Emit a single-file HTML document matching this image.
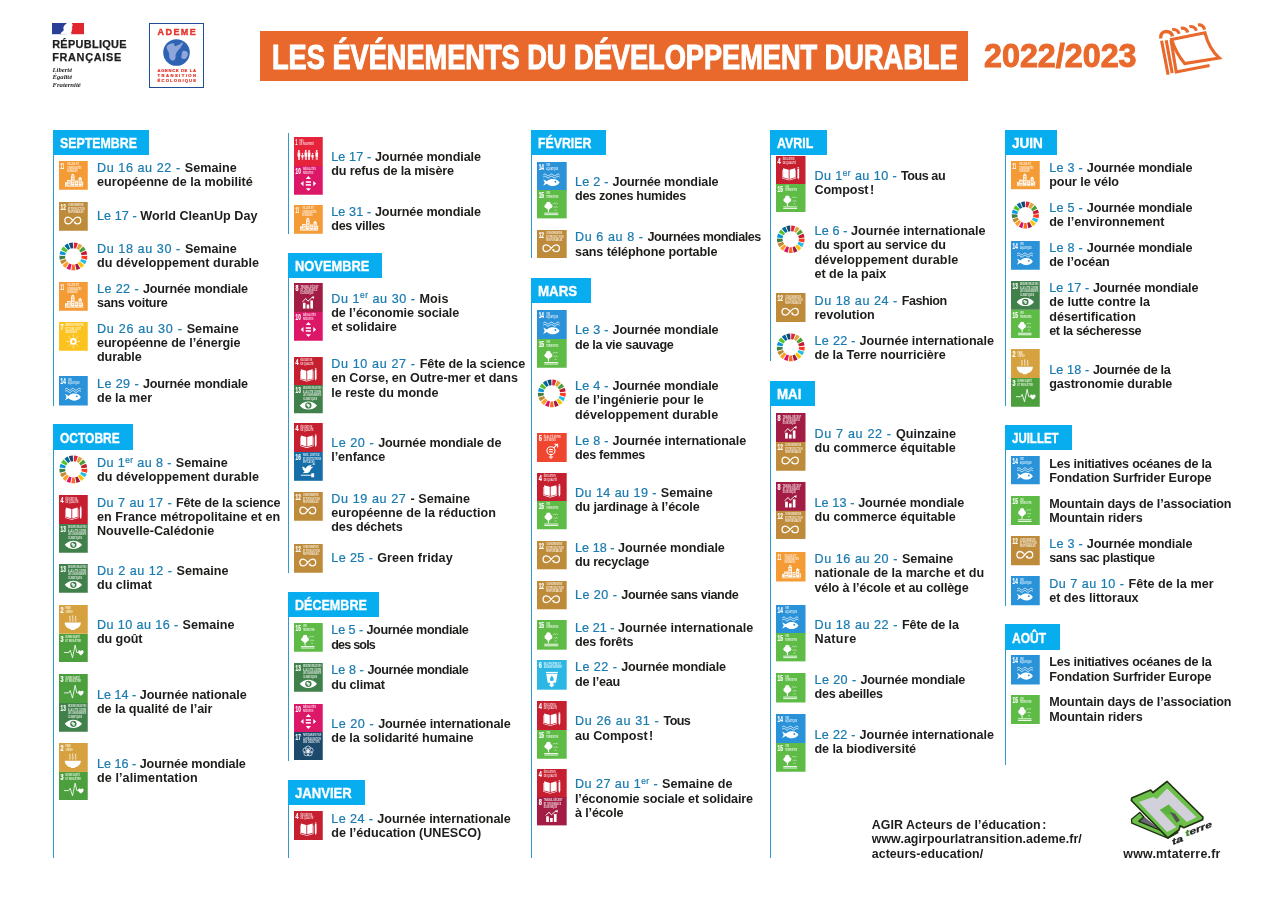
<!DOCTYPE html>
<html lang="fr"><head><meta charset="utf-8"><title>Les événements du développement durable 2022/2023</title>
<style>
html,body{margin:0;padding:0;background:#fff}
body{width:1276px;height:903px;position:relative;overflow:hidden;font-family:"Liberation Sans",sans-serif;color:#1d1d1b}
.i{position:absolute;display:block}
.vl{position:absolute;width:1.15px;background:#2E9AD0}
.mh{position:absolute;background:#07ADEE;color:#fff;font-weight:bold;font-size:14.6px;line-height:1;white-space:nowrap}
.mh span{position:absolute;left:7.1px;display:inline-block;transform-origin:0 50%;-webkit-text-stroke:.35px #fff}
.e{position:absolute;font-size:12.6px;line-height:14.45px;font-weight:bold;white-space:nowrap;letter-spacing:0.0px}
.e i{font-style:normal;font-weight:normal;color:#1A7BB0;display:inline-block;white-space:pre;-webkit-text-stroke:.22px #1A7BB0}
.e b{font-weight:bold}
.j{letter-spacing:-.2px}
sup{font-size:.66em;vertical-align:0;position:relative;top:-.5em;line-height:0}
.abs{position:absolute;white-space:nowrap}
</style></head><body>
<!-- République Française -->
<svg class="i" style="left:52px;top:23px" width="32" height="12" viewBox="0 0 32 12">
<rect x="0" y="0" width="15" height="11.200" fill="#2A3F96"/><rect x="15" y="0" width="4" height="11.200" fill="#fff"/><rect x="18.500" y="0" width="13.500" height="11.200" fill="#E1262D"/>
<path d="M15 0c-1.500 1.200-3.200 2.600-3.600 4.400-.3 1.300.6 2 .2 3-.4.900-1.700 1.300-2.400 2.100-.5.600-.6 1.200-.4 1.700h10.400c.5-.6.200-1.300-.3-1.800.7-.3 1-.9.600-1.500.5-.2.600-.8.200-1.200.6-.4.900-1 .4-1.700-.4-.6-.2-1.100.200-1.600C20.900 2 20.500.800 19.800 0z" fill="#fff"/>
</svg>
<div class="abs" style="left:52.200px;top:38.300px;font-weight:bold;font-size:10.900px;line-height:12.200px;color:#1e1e1e;-webkit-text-stroke:.25px #1e1e1e"><span style="letter-spacing:.32px">RÉPUBLIQUE</span><br><span style="letter-spacing:.68px">FRANÇAISE</span></div>
<div class="abs" style="left:52.500px;top:65.600px;font-family:'Liberation Serif',serif;font-style:italic;font-weight:bold;font-size:6.700px;line-height:7.850px;color:#1e1e1e">Liberté<br>Égalité<br>Fraternité</div>
<!-- ADEME -->
<div class="abs" style="left:149.200px;top:23.300px;width:52.600px;height:63.100px;border:1.100px solid #1F4E96;background:#fff"></div>
<div class="abs" style="left:157.600px;top:26.800px;font-weight:bold;font-size:9px;line-height:10px;letter-spacing:1.400px;color:#E5352B;-webkit-text-stroke:.4px #E5352B">ADEME</div>
<svg class="i" style="left:162.900px;top:38.800px" width="27" height="27" viewBox="0 0 27 27">
<circle cx="13.500" cy="13.500" r="13.300" fill="#2E63B4"/>
<path d="M4 7c2-2 5-3 7-2.500 1 .6-.5 2 .8 2.600 1.600.4 2.700-1.800 4.400-1.300l2.800-2.300 1.200.6-2.200 3.700c-1.300 2.400-3.800 4.200-5 6.700-.9 2 .2 4.300-1.300 6.200-1.400 1.500-3.400 1-4.500-.5C5.500 18 6.700 15.600 5.700 13.200 5 11 2.800 9.500 4 7z" fill="#8FA6DA"/>
<path d="M20 12c1.800-.6 4 .3 4.800 2 .5 1.800-.4 4-1.800 5.200-1.300 1-3.200 1.300-4.300.1-1-1.300 0-3 .1-4.500.1-1.100.2-2.300 1.200-2.800z" fill="#8FA6DA"/>
</svg>
<div class="abs" style="left:157.600px;top:69px;font-weight:bold;font-size:4.200px;line-height:4.850px;color:#E5352B;-webkit-text-stroke:.2px #E5352B"><span style="letter-spacing:.61px">AGENCE DE LA</span><br><span style="letter-spacing:1.420px">TRANSITION</span><br><span style="letter-spacing:1.110px">ÉCOLOGIQUE</span></div>
<!-- banner -->
<div class="abs" style="left:260px;top:31px;width:708px;height:50.300px;background:#E9682B"></div>
<div class="abs" style="left:271.800px;top:37.800px;font-weight:bold;font-size:34.600px;line-height:38px;color:#fff;-webkit-text-stroke:1.100px #fff;transform:scaleX(.786);transform-origin:0 50%">LES ÉVÉNEMENTS DU DÉVELOPPEMENT DURABLE</div>
<div class="abs" style="left:983.600px;top:37px;font-weight:bold;font-size:33px;line-height:38px;color:#E9682B;-webkit-text-stroke:1px #E9682B;transform:scaleX(.978);transform-origin:0 50%">2022/2023</div>
<svg class="i" style="left:1155px;top:20px" width="72" height="60" viewBox="1155 20 72 60" fill="none" stroke="#E9682B" stroke-width="3.100">
<path d="M1171.600 39.500L1205 32.800c2.500 10 7 18.500 14.200 25.200l-34.500 5.500c-5.500-6.500-10-14-13.100-24z" stroke-linejoin="miter"/>
<path d="M1161.600 40.800l6.500 34M1166.200 40.300l6 32.800M1171 40l5.200 32 33.400-6.600" stroke-linejoin="miter"/>
<path d="M1160.800 38.500c-.7-4.300 1.800-7 5.400-7s5.700 2.200 6.300 4.800" stroke-width="3.400"/>
<path d="M1172.200 29.600c3.200-.6 6 1.200 7 4.200M1180.800 28.200c3.200-.6 6 1.200 7 4.200M1189.400 26.600c3.200-.6 6 1.200 7 4.200M1198 25c3.200-.6 5.800 1.200 6.600 4.600" stroke-width="3.200"/>
</svg>
<div class="vl" style="left:53.0px;top:130.3px;height:275.5px"></div>
<div class="mh" style="left:53.0px;top:130.3px;width:96.0px;height:24.3px"><span style="top:5.85px;transform:scaleX(0.847)">SEPTEMBRE</span></div>
<div class="vl" style="left:53.0px;top:424.4px;height:433.8px"></div>
<div class="mh" style="left:53.0px;top:424.4px;width:79.8px;height:25.2px"><span style="top:6.30px;transform:scaleX(0.821)">OCTOBRE</span></div>
<div class="vl" style="left:288.0px;top:133.0px;height:100.8px"></div>
<div class="vl" style="left:288.0px;top:253.0px;height:319.5px"></div>
<div class="mh" style="left:288.0px;top:253.0px;width:93.8px;height:24.5px"><span style="top:5.95px;transform:scaleX(0.882)">NOVEMBRE</span></div>
<div class="vl" style="left:288.0px;top:592.0px;height:168.5px"></div>
<div class="mh" style="left:288.0px;top:592.0px;width:91.0px;height:24.8px"><span style="top:6.10px;transform:scaleX(0.860)">DÉCEMBRE</span></div>
<div class="vl" style="left:288.0px;top:780.0px;height:78.2px"></div>
<div class="mh" style="left:288.0px;top:780.0px;width:76.5px;height:25.2px"><span style="top:6.30px;transform:scaleX(0.896)">JANVIER</span></div>
<div class="vl" style="left:531.0px;top:130.3px;height:128.0px"></div>
<div class="mh" style="left:531.0px;top:130.3px;width:75.0px;height:24.3px"><span style="top:5.85px;transform:scaleX(0.843)">FÉVRIER</span></div>
<div class="vl" style="left:531.0px;top:278.0px;height:580.2px"></div>
<div class="mh" style="left:531.0px;top:278.0px;width:60.0px;height:25.2px"><span style="top:6.30px;transform:scaleX(0.911)">MARS</span></div>
<div class="vl" style="left:770.3px;top:130.3px;height:231.2px"></div>
<div class="mh" style="left:770.3px;top:130.3px;width:56.5px;height:24.3px"><span style="top:5.85px;transform:scaleX(0.853)">AVRIL</span></div>
<div class="vl" style="left:770.3px;top:381.2px;height:477.0px"></div>
<div class="mh" style="left:770.3px;top:381.2px;width:44.7px;height:25.1px"><span style="top:6.25px;transform:scaleX(0.915)">MAI</span></div>
<div class="vl" style="left:1005.0px;top:130.3px;height:276.2px"></div>
<div class="mh" style="left:1005.0px;top:130.3px;width:51.8px;height:24.3px"><span style="top:5.85px;transform:scaleX(0.928)">JUIN</span></div>
<div class="vl" style="left:1005.0px;top:425.0px;height:180.5px"></div>
<div class="mh" style="left:1005.0px;top:425.0px;width:66.8px;height:24.6px"><span style="top:6.00px;transform:scaleX(0.787)">JUILLET</span></div>
<div class="vl" style="left:1005.0px;top:624.2px;height:140.8px"></div>
<div class="mh" style="left:1005.0px;top:624.2px;width:54.8px;height:25.4px"><span style="top:6.40px;transform:scaleX(0.825)">AOÛT</span></div>
<svg class="i" style="left:59.0px;top:161.0px" width="28.75" height="28.75" viewBox="0 0 100 100" preserveAspectRatio="none"><rect width="100" height="100" fill="#F49B36"/><g fill="#fff" font-family="Liberation Sans,sans-serif" font-weight="bold"><text x="5.500" y="28.500" font-size="31" stroke="#fff" stroke-width=".700" textLength="12" lengthAdjust="spacingAndGlyphs">11</text><g opacity=".8"><text x="28.5" y="15.6" font-size="9.4" textLength="40.5" lengthAdjust="spacingAndGlyphs">VILLES ET</text><text x="28.5" y="26.6" font-size="9.4" textLength="49.5" lengthAdjust="spacingAndGlyphs">COMMUNAUTÉS</text><text x="28.5" y="37.6" font-size="9.4" textLength="36" lengthAdjust="spacingAndGlyphs">DURABLES</text></g></g><g fill="#fff"><rect x="42" y="50" width="12" height="36"/><rect x="44" y="45" width="8" height="4"/><rect x="28" y="66" width="12.500" height="20"/><rect x="21" y="74" width="6" height="12"/><rect x="56" y="68" width="10" height="18"/><path d="M68 60l5.500-5.500L79 60v26H68z"/><rect x="20" y="87" width="64" height="2"/><rect x="80.500" y="72" width="3.500" height="14"/></g><g fill="#F49B36"><rect x="44.500" y="54" width="7" height="2.400"/><rect x="44.500" y="59.500" width="7" height="2.400"/><rect x="44.500" y="65" width="7" height="2.400"/><rect x="44.500" y="70.500" width="7" height="2.400"/><rect x="44.500" y="76" width="7" height="2.400"/><rect x="30" y="70" width="8.500" height="2.400"/><rect x="30" y="75.500" width="8.500" height="2.400"/><rect x="30" y="81" width="8.500" height="2.400"/><rect x="58" y="72" width="6" height="2.400"/><rect x="58" y="77.500" width="6" height="2.400"/><rect x="70.500" y="65" width="6" height="2.400"/><rect x="70.500" y="70.500" width="6" height="2.400"/><rect x="70.500" y="76" width="6" height="2.400"/></g></svg>
<div class="e" style="left:97.0px;top:161.00px"><i style="width:87.75px;letter-spacing:0.57px">Du 16 au 22 - </i><span style="letter-spacing:0.03px">Semaine</span><br><span style="letter-spacing:0.02px">européenne de la mobilité</span></div>
<svg class="i" style="left:59.0px;top:202.0px" width="28.75" height="28.75" viewBox="0 0 100 100" preserveAspectRatio="none"><rect width="100" height="100" fill="#BE8B3A"/><g fill="#fff" font-family="Liberation Sans,sans-serif" font-weight="bold"><text x="5.500" y="28.500" font-size="31" stroke="#fff" stroke-width=".700" textLength="18" lengthAdjust="spacingAndGlyphs">12</text><g opacity=".8"><text x="31" y="15.6" font-size="9.4" textLength="54" lengthAdjust="spacingAndGlyphs">CONSOMMATION</text><text x="31" y="26.6" font-size="9.4" textLength="58.5" lengthAdjust="spacingAndGlyphs">ET PRODUCTION</text><text x="31" y="37.6" font-size="9.4" textLength="54" lengthAdjust="spacingAndGlyphs">RESPONSABLES</text></g></g><path d="M48 64.500c-5-7-9.500-11.500-16-11.500a11.500 11.500 0 0 0 0 23c6.500 0 11-4.500 16-11.500s9.500-11.500 16-11.500a11.500 11.500 0 0 1 0 23c-4 0-7-1.500-9.500-4" fill="none" stroke="#fff" stroke-width="4.400" stroke-linecap="round"/><path d="M50 68.500l8.500-1-1 9z" fill="#fff"/></svg>
<div class="e" style="left:97.0px;top:208.50px"><i style="width:43.35px;letter-spacing:0.08px">Le 17 - </i><span style="letter-spacing:0.03px">World CleanUp Day</span></div>
<svg class="i" style="left:59.0px;top:242.0px" width="28.75" height="28.75" viewBox="0 0 100 100"><path d="M51.9 1.5A48.5 48.5 0 0 1 65.7 4.1L59.2 23.0A28.5 28.5 0 0 0 51.1 21.5Z" fill="#E5243B"/><path d="M69.3 5.5A48.5 48.5 0 0 1 81.2 12.9L68.3 28.2A28.5 28.5 0 0 0 61.3 23.9Z" fill="#DDA63A"/><path d="M84.1 15.5A48.5 48.5 0 0 1 92.5 26.7L75.0 36.3A28.5 28.5 0 0 0 70.0 29.7Z" fill="#4C9F38"/><path d="M94.2 30.1A48.5 48.5 0 0 1 98.1 43.6L78.3 46.2A28.5 28.5 0 0 0 76.0 38.3Z" fill="#C5192D"/><path d="M98.4 47.5A48.5 48.5 0 0 1 97.1 61.4L77.7 56.7A28.5 28.5 0 0 0 78.5 48.5Z" fill="#FF3A21"/><path d="M96.1 65.1A48.5 48.5 0 0 1 89.8 77.7L73.4 66.3A28.5 28.5 0 0 0 77.1 58.9Z" fill="#26BDE2"/><path d="M87.5 80.8A48.5 48.5 0 0 1 77.2 90.2L66.0 73.6A28.5 28.5 0 0 0 72.0 68.1Z" fill="#FCC30B"/><path d="M73.9 92.2A48.5 48.5 0 0 1 60.8 97.3L56.4 77.8A28.5 28.5 0 0 0 64.0 74.8Z" fill="#A21942"/><path d="M57.0 98.0A48.5 48.5 0 0 1 43.0 98.0L45.9 78.2A28.5 28.5 0 0 0 54.1 78.2Z" fill="#FD6925"/><path d="M39.2 97.3A48.5 48.5 0 0 1 26.1 92.2L36.0 74.8A28.5 28.5 0 0 0 43.6 77.8Z" fill="#DD1367"/><path d="M22.8 90.2A48.5 48.5 0 0 1 12.5 80.8L28.0 68.1A28.5 28.5 0 0 0 34.0 73.6Z" fill="#FD9D24"/><path d="M10.2 77.7A48.5 48.5 0 0 1 3.9 65.1L22.9 58.9A28.5 28.5 0 0 0 26.6 66.3Z" fill="#BF8B2E"/><path d="M2.9 61.4A48.5 48.5 0 0 1 1.6 47.5L21.5 48.5A28.5 28.5 0 0 0 22.3 56.7Z" fill="#3F7E44"/><path d="M1.9 43.6A48.5 48.5 0 0 1 5.8 30.1L24.0 38.3A28.5 28.5 0 0 0 21.7 46.2Z" fill="#0A97D9"/><path d="M7.5 26.7A48.5 48.5 0 0 1 15.9 15.5L30.0 29.7A28.5 28.5 0 0 0 25.0 36.3Z" fill="#56C02B"/><path d="M18.8 12.9A48.5 48.5 0 0 1 30.7 5.5L38.7 23.9A28.5 28.5 0 0 0 31.7 28.2Z" fill="#00689D"/><path d="M34.3 4.1A48.5 48.5 0 0 1 48.1 1.5L48.9 21.5A28.5 28.5 0 0 0 40.8 23.0Z" fill="#19486A"/></svg>
<div class="e" style="left:97.0px;top:241.50px"><i style="width:87.95px;letter-spacing:0.58px">Du 18 au 30 - </i>Semaine<br><span style="letter-spacing:0.08px">du développement durable</span></div>
<svg class="i" style="left:59.0px;top:282.0px" width="28.75" height="28.75" viewBox="0 0 100 100" preserveAspectRatio="none"><rect width="100" height="100" fill="#F49B36"/><g fill="#fff" font-family="Liberation Sans,sans-serif" font-weight="bold"><text x="5.500" y="28.500" font-size="31" stroke="#fff" stroke-width=".700" textLength="12" lengthAdjust="spacingAndGlyphs">11</text><g opacity=".8"><text x="28.5" y="15.6" font-size="9.4" textLength="40.5" lengthAdjust="spacingAndGlyphs">VILLES ET</text><text x="28.5" y="26.6" font-size="9.4" textLength="49.5" lengthAdjust="spacingAndGlyphs">COMMUNAUTÉS</text><text x="28.5" y="37.6" font-size="9.4" textLength="36" lengthAdjust="spacingAndGlyphs">DURABLES</text></g></g><g fill="#fff"><rect x="42" y="50" width="12" height="36"/><rect x="44" y="45" width="8" height="4"/><rect x="28" y="66" width="12.500" height="20"/><rect x="21" y="74" width="6" height="12"/><rect x="56" y="68" width="10" height="18"/><path d="M68 60l5.500-5.500L79 60v26H68z"/><rect x="20" y="87" width="64" height="2"/><rect x="80.500" y="72" width="3.500" height="14"/></g><g fill="#F49B36"><rect x="44.500" y="54" width="7" height="2.400"/><rect x="44.500" y="59.500" width="7" height="2.400"/><rect x="44.500" y="65" width="7" height="2.400"/><rect x="44.500" y="70.500" width="7" height="2.400"/><rect x="44.500" y="76" width="7" height="2.400"/><rect x="30" y="70" width="8.500" height="2.400"/><rect x="30" y="75.500" width="8.500" height="2.400"/><rect x="30" y="81" width="8.500" height="2.400"/><rect x="58" y="72" width="6" height="2.400"/><rect x="58" y="77.500" width="6" height="2.400"/><rect x="70.500" y="65" width="6" height="2.400"/><rect x="70.500" y="70.500" width="6" height="2.400"/><rect x="70.500" y="76" width="6" height="2.400"/></g></svg>
<div class="e" style="left:97.0px;top:282.00px"><i style="width:45.90px;letter-spacing:0.40px">Le 22 - </i><span style="letter-spacing:-0.17px">Journée mondiale</span><br><span style="letter-spacing:-0.31px">sans voiture</span></div>
<svg class="i" style="left:59.0px;top:322.2px" width="28.75" height="28.75" viewBox="0 0 100 100" preserveAspectRatio="none"><rect width="100" height="100" fill="#FCC21E"/><g fill="#fff" font-family="Liberation Sans,sans-serif" font-weight="bold"><text x="5.500" y="28.500" font-size="31" stroke="#fff" stroke-width=".700" textLength="10.5" lengthAdjust="spacingAndGlyphs">7</text><g opacity=".8"><text x="22.5" y="15.6" font-size="9.4" textLength="63" lengthAdjust="spacingAndGlyphs">ÉNERGIE PROPRE</text><text x="22.5" y="26.6" font-size="9.4" textLength="54" lengthAdjust="spacingAndGlyphs">ET D’UN COÛT</text><text x="22.5" y="37.6" font-size="9.4" textLength="40.5" lengthAdjust="spacingAndGlyphs">ABORDABLE</text></g></g><g fill="none" stroke="#fff" stroke-linecap="round"><circle cx="50" cy="67.500" r="8.500" stroke-width="6.500"/><path d="M65.5 67.5L72.5 67.5M61.0 78.5L65.9 83.4M50.0 83.0L50.0 90.0M39.0 78.5L34.1 83.4M34.5 67.5L27.5 67.5M39.0 56.5L34.1 51.6M50.0 52.0L50.0 45.0M61.0 56.5L65.9 51.6" stroke-width="2.600" opacity=".85"/><path d="M50 63.500v4" stroke-width="1.500" stroke="#FCC21E"/></g></svg>
<div class="e" style="left:97.0px;top:321.50px"><i style="width:89.70px;letter-spacing:0.71px">Du 26 au 30 - </i><span style="letter-spacing:0.03px">Semaine</span><br><span style="letter-spacing:-0.06px">européenne de l’énergie</span><br><span style="letter-spacing:-0.13px">durable</span></div>
<svg class="i" style="left:59.0px;top:376.3px" width="28.75" height="29.5" viewBox="0 0 100 100" preserveAspectRatio="none"><rect width="100" height="100" fill="#2A92D8"/><g fill="#fff" font-family="Liberation Sans,sans-serif" font-weight="bold"><text x="5.500" y="28.500" font-size="31" stroke="#fff" stroke-width=".700" textLength="18" lengthAdjust="spacingAndGlyphs">14</text><g opacity=".8"><text x="31" y="15.6" font-size="9.4" textLength="13.5" lengthAdjust="spacingAndGlyphs">VIE</text><text x="31" y="26.6" font-size="9.4" textLength="40.5" lengthAdjust="spacingAndGlyphs">AQUATIQUE</text></g></g><g fill="none" stroke="#fff" stroke-width="2.600"><path d="M21 45c4-4 7-4 11 0s7 4 11 0 7-4 11 0 7 4 11 0 7-4 11 0"/><path d="M21 52.500c4-4 7-4 11 0s7 4 11 0 7-4 11 0 7 4 11 0 7-4 11 0"/></g><path d="M21 60.500l12 7c6-6 13-8 21-8 10 0 18 5 22 12-4 7-12 12-22 12-8 0-15-2-21-8l-12 7 5-11z" fill="#fff"/><circle cx="62" cy="69" r="3.200" fill="#2A92D8"/></svg>
<div class="e" style="left:97.0px;top:376.50px"><i style="width:45.90px;letter-spacing:0.40px">Le 29 - </i><span style="letter-spacing:-0.17px">Journée mondiale</span><br><span style="letter-spacing:-0.03px">de la mer</span></div>
<svg class="i" style="left:59.0px;top:455.0px" width="28.75" height="28.75" viewBox="0 0 100 100"><path d="M51.9 1.5A48.5 48.5 0 0 1 65.7 4.1L59.2 23.0A28.5 28.5 0 0 0 51.1 21.5Z" fill="#E5243B"/><path d="M69.3 5.5A48.5 48.5 0 0 1 81.2 12.9L68.3 28.2A28.5 28.5 0 0 0 61.3 23.9Z" fill="#DDA63A"/><path d="M84.1 15.5A48.5 48.5 0 0 1 92.5 26.7L75.0 36.3A28.5 28.5 0 0 0 70.0 29.7Z" fill="#4C9F38"/><path d="M94.2 30.1A48.5 48.5 0 0 1 98.1 43.6L78.3 46.2A28.5 28.5 0 0 0 76.0 38.3Z" fill="#C5192D"/><path d="M98.4 47.5A48.5 48.5 0 0 1 97.1 61.4L77.7 56.7A28.5 28.5 0 0 0 78.5 48.5Z" fill="#FF3A21"/><path d="M96.1 65.1A48.5 48.5 0 0 1 89.8 77.7L73.4 66.3A28.5 28.5 0 0 0 77.1 58.9Z" fill="#26BDE2"/><path d="M87.5 80.8A48.5 48.5 0 0 1 77.2 90.2L66.0 73.6A28.5 28.5 0 0 0 72.0 68.1Z" fill="#FCC30B"/><path d="M73.9 92.2A48.5 48.5 0 0 1 60.8 97.3L56.4 77.8A28.5 28.5 0 0 0 64.0 74.8Z" fill="#A21942"/><path d="M57.0 98.0A48.5 48.5 0 0 1 43.0 98.0L45.9 78.2A28.5 28.5 0 0 0 54.1 78.2Z" fill="#FD6925"/><path d="M39.2 97.3A48.5 48.5 0 0 1 26.1 92.2L36.0 74.8A28.5 28.5 0 0 0 43.6 77.8Z" fill="#DD1367"/><path d="M22.8 90.2A48.5 48.5 0 0 1 12.5 80.8L28.0 68.1A28.5 28.5 0 0 0 34.0 73.6Z" fill="#FD9D24"/><path d="M10.2 77.7A48.5 48.5 0 0 1 3.9 65.1L22.9 58.9A28.5 28.5 0 0 0 26.6 66.3Z" fill="#BF8B2E"/><path d="M2.9 61.4A48.5 48.5 0 0 1 1.6 47.5L21.5 48.5A28.5 28.5 0 0 0 22.3 56.7Z" fill="#3F7E44"/><path d="M1.9 43.6A48.5 48.5 0 0 1 5.8 30.1L24.0 38.3A28.5 28.5 0 0 0 21.7 46.2Z" fill="#0A97D9"/><path d="M7.5 26.7A48.5 48.5 0 0 1 15.9 15.5L30.0 29.7A28.5 28.5 0 0 0 25.0 36.3Z" fill="#56C02B"/><path d="M18.8 12.9A48.5 48.5 0 0 1 30.7 5.5L38.7 23.9A28.5 28.5 0 0 0 31.7 28.2Z" fill="#00689D"/><path d="M34.3 4.1A48.5 48.5 0 0 1 48.1 1.5L48.9 21.5A28.5 28.5 0 0 0 40.8 23.0Z" fill="#19486A"/></svg>
<div class="e" style="left:97.0px;top:456.00px"><i style="width:78.75px;letter-spacing:0.40px">Du 1<sup>er</sup> au 8 - </i><span style="letter-spacing:0.04px">Semaine</span><br><span style="letter-spacing:0.08px">du développement durable</span></div>
<svg class="i" style="left:59.0px;top:495.0px" width="28.75" height="29.05" viewBox="0 0 100 100" preserveAspectRatio="none"><rect width="100" height="100" fill="#C61F30"/><g fill="#fff" font-family="Liberation Sans,sans-serif" font-weight="bold"><text x="5.500" y="28.500" font-size="31" stroke="#fff" stroke-width=".700" textLength="10.5" lengthAdjust="spacingAndGlyphs">4</text><g opacity=".8"><text x="22.5" y="15.6" font-size="9.4" textLength="40.5" lengthAdjust="spacingAndGlyphs">ÉDUCATION</text><text x="22.5" y="26.6" font-size="9.4" textLength="45" lengthAdjust="spacingAndGlyphs">DE QUALITÉ</text></g></g><g fill="#fff"><path d="M24 43l19 5.500v32l-19-5.500z"/><path d="M65 43l-19 5.500v32l19-5.500z"/><path d="M21.500 49v30l21.500 6.500h3l21.500-6.500V49h-1.800v28.500l-21.200 6-21.200-6V49z"/><path d="M72.500 45h6v31l-3 7.500-3-7.500z"/><rect x="72.500" y="39.500" width="6" height="4" rx="1.500"/></g></svg><svg class="i" style="left:59.0px;top:523.75px" width="28.75" height="28.75" viewBox="0 0 100 100" preserveAspectRatio="none"><rect width="100" height="100" fill="#40804A"/><g fill="#fff" font-family="Liberation Sans,sans-serif" font-weight="bold"><text x="5.500" y="28.500" font-size="31" stroke="#fff" stroke-width=".700" textLength="18" lengthAdjust="spacingAndGlyphs">13</text><g opacity=".8"><text x="31" y="15" font-size="9.8" textLength="64" lengthAdjust="spacingAndGlyphs">MESURES RELATIVES</text><text x="31" y="27.2" font-size="9.8" textLength="64" lengthAdjust="spacingAndGlyphs">À LA LUTTE CONTRE</text><text x="31" y="39.4" font-size="9.8" textLength="64" lengthAdjust="spacingAndGlyphs">LES CHANGEMENTS</text><text x="31" y="51.6" font-size="9.8" textLength="49.5" lengthAdjust="spacingAndGlyphs">CLIMATIQUES</text></g></g><path d="M20 72.500c8.500-10.500 19-14.500 30-14.500s21.500 4 30 14.500c-8.500 10.500-19 14.500-30 14.500s-21.500-4-30-14.500z" fill="#fff"/><circle cx="50" cy="72.500" r="11" fill="#40804A"/><path d="M43.500 67.500c3-3 6-2 7 0s4 1 5 3-2 4-1 6-3 4-5 3-1-4-3-5-4-3-3-7z" fill="#fff" opacity=".85"/></svg>
<div class="e" style="left:97.0px;top:495.50px"><i style="width:79.00px;letter-spacing:0.48px">Du 7 au 17 - </i><span style="letter-spacing:-0.19px">Fête de la science</span><br><span style="letter-spacing:0.02px">en France métropolitaine et en</span><br><span style="letter-spacing:0.03px">Nouvelle-Calédonie</span></div>
<svg class="i" style="left:59.0px;top:564.0px" width="28.75" height="28.75" viewBox="0 0 100 100" preserveAspectRatio="none"><rect width="100" height="100" fill="#40804A"/><g fill="#fff" font-family="Liberation Sans,sans-serif" font-weight="bold"><text x="5.500" y="28.500" font-size="31" stroke="#fff" stroke-width=".700" textLength="18" lengthAdjust="spacingAndGlyphs">13</text><g opacity=".8"><text x="31" y="15" font-size="9.8" textLength="64" lengthAdjust="spacingAndGlyphs">MESURES RELATIVES</text><text x="31" y="27.2" font-size="9.8" textLength="64" lengthAdjust="spacingAndGlyphs">À LA LUTTE CONTRE</text><text x="31" y="39.4" font-size="9.8" textLength="64" lengthAdjust="spacingAndGlyphs">LES CHANGEMENTS</text><text x="31" y="51.6" font-size="9.8" textLength="49.5" lengthAdjust="spacingAndGlyphs">CLIMATIQUES</text></g></g><path d="M20 72.500c8.500-10.500 19-14.500 30-14.500s21.500 4 30 14.500c-8.500 10.500-19 14.500-30 14.500s-21.500-4-30-14.500z" fill="#fff"/><circle cx="50" cy="72.500" r="11" fill="#40804A"/><path d="M43.500 67.500c3-3 6-2 7 0s4 1 5 3-2 4-1 6-3 4-5 3-1-4-3-5-4-3-3-7z" fill="#fff" opacity=".85"/></svg>
<div class="e" style="left:97.0px;top:564.00px"><i style="width:79.50px;letter-spacing:0.51px">Du 2 au 12 - </i><span style="letter-spacing:0.03px">Semaine</span><br><span style="letter-spacing:-0.05px">du climat</span></div>
<svg class="i" style="left:59.0px;top:605.0px" width="28.75" height="28.8" viewBox="0 0 100 100" preserveAspectRatio="none"><rect width="100" height="100" fill="#D6A23F"/><g fill="#fff" font-family="Liberation Sans,sans-serif" font-weight="bold"><text x="5.500" y="28.500" font-size="31" stroke="#fff" stroke-width=".700" textLength="10.5" lengthAdjust="spacingAndGlyphs">2</text><g opacity=".8"><text x="22.5" y="15.6" font-size="9.4" textLength="18" lengthAdjust="spacingAndGlyphs">FAIM</text><text x="22.5" y="26.6" font-size="9.4" textLength="27" lengthAdjust="spacingAndGlyphs">«ZÉRO»</text></g></g><path d="M20 61h56c0 12-9 21-21 23v2.500H41V84C29 82 20 73 20 61z" fill="#fff"/><g fill="none" stroke="#fff" stroke-width="2.700" stroke-linecap="round"><path d="M38 39c-3.500 5 3.500 9 0 17"/><path d="M48 37c-3.500 6 3.500 11 0 19"/><path d="M58 39c-3.500 5 3.500 9 0 17"/></g></svg><svg class="i" style="left:59.0px;top:633.5px" width="28.75" height="28.5" viewBox="0 0 100 100" preserveAspectRatio="none"><rect width="100" height="100" fill="#4C9F3D"/><g fill="#fff" font-family="Liberation Sans,sans-serif" font-weight="bold"><text x="5.500" y="28.500" font-size="31" stroke="#fff" stroke-width=".700" textLength="10.5" lengthAdjust="spacingAndGlyphs">3</text><g opacity=".8"><text x="22.5" y="15.6" font-size="9.4" textLength="49.5" lengthAdjust="spacingAndGlyphs">BONNE SANTÉ</text><text x="22.5" y="26.6" font-size="9.4" textLength="54" lengthAdjust="spacingAndGlyphs">ET BIEN-ÊTRE</text></g></g><path d="M19 65h15l5-8 8 26 9-44 6 26h5" fill="none" stroke="#fff" stroke-width="2.900" stroke-linejoin="round" stroke-linecap="round"/><path d="M76 75c-8-5.500-9.500-9-9.500-12.500 0-5.500 7-7 9.500-2 2.500-5 9.500-3.500 9.500 2 0 3.500-1.500 7-9.500 12.500z" fill="#fff"/></svg>
<div class="e" style="left:97.0px;top:617.75px"><i style="width:85.55px;letter-spacing:0.41px">Du 10 au 16 - </i><span style="letter-spacing:0.03px">Semaine</span><br><span style="letter-spacing:-0.10px">du goût</span></div>
<svg class="i" style="left:59.0px;top:674.25px" width="28.75" height="29.05" viewBox="0 0 100 100" preserveAspectRatio="none"><rect width="100" height="100" fill="#4C9F3D"/><g fill="#fff" font-family="Liberation Sans,sans-serif" font-weight="bold"><text x="5.500" y="28.500" font-size="31" stroke="#fff" stroke-width=".700" textLength="10.5" lengthAdjust="spacingAndGlyphs">3</text><g opacity=".8"><text x="22.5" y="15.6" font-size="9.4" textLength="49.5" lengthAdjust="spacingAndGlyphs">BONNE SANTÉ</text><text x="22.5" y="26.6" font-size="9.4" textLength="54" lengthAdjust="spacingAndGlyphs">ET BIEN-ÊTRE</text></g></g><path d="M19 65h15l5-8 8 26 9-44 6 26h5" fill="none" stroke="#fff" stroke-width="2.900" stroke-linejoin="round" stroke-linecap="round"/><path d="M76 75c-8-5.500-9.500-9-9.500-12.500 0-5.500 7-7 9.500-2 2.500-5 9.500-3.500 9.500 2 0 3.500-1.500 7-9.500 12.500z" fill="#fff"/></svg><svg class="i" style="left:59.0px;top:703.0px" width="28.75" height="28.75" viewBox="0 0 100 100" preserveAspectRatio="none"><rect width="100" height="100" fill="#40804A"/><g fill="#fff" font-family="Liberation Sans,sans-serif" font-weight="bold"><text x="5.500" y="28.500" font-size="31" stroke="#fff" stroke-width=".700" textLength="18" lengthAdjust="spacingAndGlyphs">13</text><g opacity=".8"><text x="31" y="15" font-size="9.8" textLength="64" lengthAdjust="spacingAndGlyphs">MESURES RELATIVES</text><text x="31" y="27.2" font-size="9.8" textLength="64" lengthAdjust="spacingAndGlyphs">À LA LUTTE CONTRE</text><text x="31" y="39.4" font-size="9.8" textLength="64" lengthAdjust="spacingAndGlyphs">LES CHANGEMENTS</text><text x="31" y="51.6" font-size="9.8" textLength="49.5" lengthAdjust="spacingAndGlyphs">CLIMATIQUES</text></g></g><path d="M20 72.500c8.500-10.500 19-14.500 30-14.500s21.500 4 30 14.500c-8.500 10.500-19 14.500-30 14.500s-21.500-4-30-14.500z" fill="#fff"/><circle cx="50" cy="72.500" r="11" fill="#40804A"/><path d="M43.500 67.500c3-3 6-2 7 0s4 1 5 3-2 4-1 6-3 4-5 3-1-4-3-5-4-3-3-7z" fill="#fff" opacity=".85"/></svg>
<div class="e" style="left:97.0px;top:688.00px"><i style="width:42.70px;letter-spacing:-0.00px">Le 14 - </i><span style="letter-spacing:-0.05px">Journée nationale</span><br><span style="letter-spacing:-0.07px">de la qualité de l’air</span></div>
<svg class="i" style="left:59.0px;top:743.25px" width="28.75" height="28.93" viewBox="0 0 100 100" preserveAspectRatio="none"><rect width="100" height="100" fill="#D6A23F"/><g fill="#fff" font-family="Liberation Sans,sans-serif" font-weight="bold"><text x="5.500" y="28.500" font-size="31" stroke="#fff" stroke-width=".700" textLength="10.5" lengthAdjust="spacingAndGlyphs">2</text><g opacity=".8"><text x="22.5" y="15.6" font-size="9.4" textLength="18" lengthAdjust="spacingAndGlyphs">FAIM</text><text x="22.5" y="26.6" font-size="9.4" textLength="27" lengthAdjust="spacingAndGlyphs">«ZÉRO»</text></g></g><path d="M20 61h56c0 12-9 21-21 23v2.500H41V84C29 82 20 73 20 61z" fill="#fff"/><g fill="none" stroke="#fff" stroke-width="2.700" stroke-linecap="round"><path d="M38 39c-3.500 5 3.500 9 0 17"/><path d="M48 37c-3.500 6 3.500 11 0 19"/><path d="M58 39c-3.500 5 3.500 9 0 17"/></g></svg><svg class="i" style="left:59.0px;top:771.88px" width="28.75" height="28.62" viewBox="0 0 100 100" preserveAspectRatio="none"><rect width="100" height="100" fill="#4C9F3D"/><g fill="#fff" font-family="Liberation Sans,sans-serif" font-weight="bold"><text x="5.500" y="28.500" font-size="31" stroke="#fff" stroke-width=".700" textLength="10.5" lengthAdjust="spacingAndGlyphs">3</text><g opacity=".8"><text x="22.5" y="15.6" font-size="9.4" textLength="49.5" lengthAdjust="spacingAndGlyphs">BONNE SANTÉ</text><text x="22.5" y="26.6" font-size="9.4" textLength="54" lengthAdjust="spacingAndGlyphs">ET BIEN-ÊTRE</text></g></g><path d="M19 65h15l5-8 8 26 9-44 6 26h5" fill="none" stroke="#fff" stroke-width="2.900" stroke-linejoin="round" stroke-linecap="round"/><path d="M76 75c-8-5.500-9.500-9-9.500-12.500 0-5.500 7-7 9.500-2 2.500-5 9.500-3.500 9.500 2 0 3.500-1.500 7-9.500 12.500z" fill="#fff"/></svg>
<div class="e" style="left:97.0px;top:756.50px"><i style="width:42.70px;letter-spacing:-0.00px">Le 16 - </i><span style="letter-spacing:-0.11px">Journée mondiale</span><br><span style="letter-spacing:0.08px">de l’alimentation</span></div>
<svg class="i" style="left:294.1px;top:137.0px" width="28.75" height="29.05" viewBox="0 0 100 100" preserveAspectRatio="none"><rect width="100" height="100" fill="#E5243B"/><g fill="#fff" font-family="Liberation Sans,sans-serif" font-weight="bold"><text x="5.500" y="28.500" font-size="31" stroke="#fff" stroke-width=".700" textLength="6.5" lengthAdjust="spacingAndGlyphs">1</text><g opacity=".8"><text x="19.5" y="15.6" font-size="9.4" textLength="13.5" lengthAdjust="spacingAndGlyphs">PAS</text><text x="19.5" y="26.6" font-size="9.4" textLength="49.5" lengthAdjust="spacingAndGlyphs">DE PAUVRETÉ</text></g></g><g fill="#fff"><circle cx="17" cy="48.3" r="3.3"/><rect x="12.4" y="52.6" width="9.2" height="15" rx="1.5"/><rect x="14" y="65.6" width="2.6" height="13.4"/><rect x="17.4" y="65.6" width="2.6" height="13.4"/><circle cx="29.5" cy="57.6" r="2.6"/><rect x="25.9" y="61.2" width="7.2" height="10" rx="1.5"/><rect x="27.5" y="69.2" width="1.6" height="9.8"/><rect x="29.9" y="69.2" width="1.6" height="9.8"/><circle cx="41" cy="48.3" r="3.3"/><rect x="36.4" y="52.6" width="9.2" height="15" rx="1.5"/><rect x="38" y="65.6" width="2.6" height="13.4"/><rect x="41.4" y="65.6" width="2.6" height="13.4"/><circle cx="52.5" cy="48.3" r="3.3"/><rect x="47.9" y="52.6" width="9.2" height="15" rx="1.5"/><rect x="49.5" y="65.6" width="2.6" height="13.4"/><rect x="52.9" y="65.6" width="2.6" height="13.4"/><circle cx="64.5" cy="57.6" r="2.6"/><rect x="60.9" y="61.2" width="7.2" height="10" rx="1.5"/><rect x="62.5" y="69.2" width="1.6" height="9.8"/><rect x="64.9" y="69.2" width="1.6" height="9.8"/><circle cx="79" cy="48.3" r="3.3"/><rect x="74.4" y="52.6" width="9.2" height="15" rx="1.5"/><rect x="76" y="65.6" width="2.6" height="13.4"/><rect x="79.4" y="65.6" width="2.6" height="13.4"/></g></svg><svg class="i" style="left:294.1px;top:165.75px" width="28.75" height="28.75" viewBox="0 0 100 100" preserveAspectRatio="none"><rect width="100" height="100" fill="#DD1768"/><g fill="#fff" font-family="Liberation Sans,sans-serif" font-weight="bold"><text x="5.500" y="28.500" font-size="31" stroke="#fff" stroke-width=".700" textLength="18" lengthAdjust="spacingAndGlyphs">10</text><g opacity=".8"><text x="31" y="15.6" font-size="9.4" textLength="45" lengthAdjust="spacingAndGlyphs">INÉGALITÉS</text><text x="31" y="26.6" font-size="9.4" textLength="36" lengthAdjust="spacingAndGlyphs">RÉDUITES</text></g></g><g fill="#fff" transform="translate(0 -6)"><rect x="41" y="59" width="18" height="5.500"/><rect x="41" y="69" width="18" height="5.500"/><path d="M50 41l9 10H41z"/><path d="M50 93l9-10H41z"/><path d="M23 67l10-9v18z"/><path d="M77 67l-10-9v18z"/></g></svg>
<div class="e" style="left:331.25px;top:149.75px"><i style="width:43.70px;letter-spacing:0.12px">Le 17 - </i><span style="letter-spacing:-0.12px">Journée mondiale</span><br><span style="letter-spacing:-0.16px">du refus de la misère</span></div>
<svg class="i" style="left:294.1px;top:205.0px" width="28.75" height="28.75" viewBox="0 0 100 100" preserveAspectRatio="none"><rect width="100" height="100" fill="#F49B36"/><g fill="#fff" font-family="Liberation Sans,sans-serif" font-weight="bold"><text x="5.500" y="28.500" font-size="31" stroke="#fff" stroke-width=".700" textLength="12" lengthAdjust="spacingAndGlyphs">11</text><g opacity=".8"><text x="28.5" y="15.6" font-size="9.4" textLength="40.5" lengthAdjust="spacingAndGlyphs">VILLES ET</text><text x="28.5" y="26.6" font-size="9.4" textLength="49.5" lengthAdjust="spacingAndGlyphs">COMMUNAUTÉS</text><text x="28.5" y="37.6" font-size="9.4" textLength="36" lengthAdjust="spacingAndGlyphs">DURABLES</text></g></g><g fill="#fff"><rect x="42" y="50" width="12" height="36"/><rect x="44" y="45" width="8" height="4"/><rect x="28" y="66" width="12.500" height="20"/><rect x="21" y="74" width="6" height="12"/><rect x="56" y="68" width="10" height="18"/><path d="M68 60l5.500-5.500L79 60v26H68z"/><rect x="20" y="87" width="64" height="2"/><rect x="80.500" y="72" width="3.500" height="14"/></g><g fill="#F49B36"><rect x="44.500" y="54" width="7" height="2.400"/><rect x="44.500" y="59.500" width="7" height="2.400"/><rect x="44.500" y="65" width="7" height="2.400"/><rect x="44.500" y="70.500" width="7" height="2.400"/><rect x="44.500" y="76" width="7" height="2.400"/><rect x="30" y="70" width="8.500" height="2.400"/><rect x="30" y="75.500" width="8.500" height="2.400"/><rect x="30" y="81" width="8.500" height="2.400"/><rect x="58" y="72" width="6" height="2.400"/><rect x="58" y="77.500" width="6" height="2.400"/><rect x="70.500" y="65" width="6" height="2.400"/><rect x="70.500" y="70.500" width="6" height="2.400"/><rect x="70.500" y="76" width="6" height="2.400"/></g></svg>
<div class="e" style="left:331.25px;top:204.75px"><i style="width:43.70px;letter-spacing:0.12px">Le 31 - </i><span style="letter-spacing:-0.12px">Journée mondiale</span><br><span style="letter-spacing:-0.29px">des villes</span></div>
<svg class="i" style="left:294.1px;top:283.0px" width="28.75" height="29.05" viewBox="0 0 100 100" preserveAspectRatio="none"><rect width="100" height="100" fill="#A31C44"/><g fill="#fff" font-family="Liberation Sans,sans-serif" font-weight="bold"><text x="5.500" y="28.500" font-size="31" stroke="#fff" stroke-width=".700" textLength="10.5" lengthAdjust="spacingAndGlyphs">8</text><g opacity=".8"><text x="22.5" y="15.6" font-size="9.4" textLength="63" lengthAdjust="spacingAndGlyphs">TRAVAIL DÉCENT</text><text x="22.5" y="26.6" font-size="9.4" textLength="58.5" lengthAdjust="spacingAndGlyphs">ET CROISSANCE</text><text x="22.5" y="37.6" font-size="9.4" textLength="45" lengthAdjust="spacingAndGlyphs">ÉCONOMIQUE</text></g></g><g fill="#fff"><rect x="31" y="68" width="9" height="20"/><rect x="44" y="74" width="9" height="14"/><rect x="57" y="60" width="9" height="28"/><path d="M61 49l9.500-3.500-2 10z"/></g><path d="M29 65l12-11.500 7.500 9.500 17-16" fill="none" stroke="#fff" stroke-width="3.200" stroke-linejoin="round"/></svg><svg class="i" style="left:294.1px;top:311.75px" width="28.75" height="28.75" viewBox="0 0 100 100" preserveAspectRatio="none"><rect width="100" height="100" fill="#DD1768"/><g fill="#fff" font-family="Liberation Sans,sans-serif" font-weight="bold"><text x="5.500" y="28.500" font-size="31" stroke="#fff" stroke-width=".700" textLength="18" lengthAdjust="spacingAndGlyphs">10</text><g opacity=".8"><text x="31" y="15.6" font-size="9.4" textLength="45" lengthAdjust="spacingAndGlyphs">INÉGALITÉS</text><text x="31" y="26.6" font-size="9.4" textLength="36" lengthAdjust="spacingAndGlyphs">RÉDUITES</text></g></g><g fill="#fff" transform="translate(0 -6)"><rect x="41" y="59" width="18" height="5.500"/><rect x="41" y="69" width="18" height="5.500"/><path d="M50 41l9 10H41z"/><path d="M50 93l9-10H41z"/><path d="M23 67l10-9v18z"/><path d="M77 67l-10-9v18z"/></g></svg>
<div class="e" style="left:331.25px;top:291.50px"><i style="width:88.25px;letter-spacing:0.54px">Du 1<sup>er</sup> au 30 - </i><span style="letter-spacing:0.07px">Mois</span><br><span style="letter-spacing:-0.11px">de l’économie sociale</span><br><span style="letter-spacing:-0.09px">et solidaire</span></div>
<svg class="i" style="left:294.1px;top:357.0px" width="28.75" height="28.55" viewBox="0 0 100 100" preserveAspectRatio="none"><rect width="100" height="100" fill="#C61F30"/><g fill="#fff" font-family="Liberation Sans,sans-serif" font-weight="bold"><text x="5.500" y="28.500" font-size="31" stroke="#fff" stroke-width=".700" textLength="10.5" lengthAdjust="spacingAndGlyphs">4</text><g opacity=".8"><text x="22.5" y="15.6" font-size="9.4" textLength="40.5" lengthAdjust="spacingAndGlyphs">ÉDUCATION</text><text x="22.5" y="26.6" font-size="9.4" textLength="45" lengthAdjust="spacingAndGlyphs">DE QUALITÉ</text></g></g><g fill="#fff"><path d="M24 43l19 5.500v32l-19-5.500z"/><path d="M65 43l-19 5.500v32l19-5.500z"/><path d="M21.500 49v30l21.500 6.500h3l21.500-6.500V49h-1.800v28.500l-21.200 6-21.200-6V49z"/><path d="M72.500 45h6v31l-3 7.500-3-7.500z"/><rect x="72.500" y="39.500" width="6" height="4" rx="1.500"/></g></svg><svg class="i" style="left:294.1px;top:385.25px" width="28.75" height="28.25" viewBox="0 0 100 100" preserveAspectRatio="none"><rect width="100" height="100" fill="#40804A"/><g fill="#fff" font-family="Liberation Sans,sans-serif" font-weight="bold"><text x="5.500" y="28.500" font-size="31" stroke="#fff" stroke-width=".700" textLength="18" lengthAdjust="spacingAndGlyphs">13</text><g opacity=".8"><text x="31" y="15" font-size="9.8" textLength="64" lengthAdjust="spacingAndGlyphs">MESURES RELATIVES</text><text x="31" y="27.2" font-size="9.8" textLength="64" lengthAdjust="spacingAndGlyphs">À LA LUTTE CONTRE</text><text x="31" y="39.4" font-size="9.8" textLength="64" lengthAdjust="spacingAndGlyphs">LES CHANGEMENTS</text><text x="31" y="51.6" font-size="9.8" textLength="49.5" lengthAdjust="spacingAndGlyphs">CLIMATIQUES</text></g></g><path d="M20 72.500c8.500-10.500 19-14.500 30-14.500s21.500 4 30 14.500c-8.500 10.500-19 14.500-30 14.500s-21.500-4-30-14.500z" fill="#fff"/><circle cx="50" cy="72.500" r="11" fill="#40804A"/><path d="M43.500 67.500c3-3 6-2 7 0s4 1 5 3-2 4-1 6-3 4-5 3-1-4-3-5-4-3-3-7z" fill="#fff" opacity=".85"/></svg>
<div class="e" style="left:331.25px;top:357.00px"><i style="width:88.50px;letter-spacing:0.62px">Du 10 au 27 - </i><span style="letter-spacing:-0.14px">Fête de la science</span><br><span style="letter-spacing:-0.03px">en Corse, en Outre-mer et dans</span><br><span style="letter-spacing:-0.04px">le reste du monde</span></div>
<svg class="i" style="left:294.1px;top:423.0px" width="28.75" height="29.1" viewBox="0 0 100 100" preserveAspectRatio="none"><rect width="100" height="100" fill="#C61F30"/><g fill="#fff" font-family="Liberation Sans,sans-serif" font-weight="bold"><text x="5.500" y="28.500" font-size="31" stroke="#fff" stroke-width=".700" textLength="10.5" lengthAdjust="spacingAndGlyphs">4</text><g opacity=".8"><text x="22.5" y="15.6" font-size="9.4" textLength="40.5" lengthAdjust="spacingAndGlyphs">ÉDUCATION</text><text x="22.5" y="26.6" font-size="9.4" textLength="45" lengthAdjust="spacingAndGlyphs">DE QUALITÉ</text></g></g><g fill="#fff"><path d="M24 43l19 5.500v32l-19-5.500z"/><path d="M65 43l-19 5.500v32l19-5.500z"/><path d="M21.500 49v30l21.500 6.500h3l21.500-6.500V49h-1.800v28.500l-21.200 6-21.200-6V49z"/><path d="M72.500 45h6v31l-3 7.500-3-7.500z"/><rect x="72.500" y="39.500" width="6" height="4" rx="1.500"/></g></svg><svg class="i" style="left:294.1px;top:451.8px" width="28.75" height="28.8" viewBox="0 0 100 100" preserveAspectRatio="none"><rect width="100" height="100" fill="#166EA8"/><g fill="#fff" font-family="Liberation Sans,sans-serif" font-weight="bold"><text x="5.500" y="28.500" font-size="31" stroke="#fff" stroke-width=".700" textLength="18" lengthAdjust="spacingAndGlyphs">16</text><g opacity=".8"><text x="31" y="15.6" font-size="9.4" textLength="58.5" lengthAdjust="spacingAndGlyphs">PAIX, JUSTICE</text><text x="31" y="26.6" font-size="9.4" textLength="64" lengthAdjust="spacingAndGlyphs">ET INSTITUTIONS</text><text x="31" y="37.6" font-size="9.4" textLength="40.5" lengthAdjust="spacingAndGlyphs">EFFICACES</text></g></g><g fill="#fff"><path d="M29 51c4 0 8 2 11 6 4-8 12-12 22-13-3 3-4 6-5 9 4-2 7-2 10-1-6 3-9 8-11 13-2 5-7 8-13 8H31l6-6c-5-4-8-9-8-16z"/><path d="M63 43l6-5 1 3 4-1-3 4z"/><rect x="24" y="79" width="38" height="3.200"/><rect x="60" y="74" width="10" height="14" rx="1.500"/></g></svg>
<div class="e" style="left:331.25px;top:436.00px"><i style="width:46.90px;letter-spacing:0.52px">Le 20 - </i><span style="letter-spacing:-0.15px">Journée mondiale de</span><br><span style="letter-spacing:-0.07px">l’enfance</span></div>
<svg class="i" style="left:294.1px;top:492.0px" width="28.75" height="28.75" viewBox="0 0 100 100" preserveAspectRatio="none"><rect width="100" height="100" fill="#BE8B3A"/><g fill="#fff" font-family="Liberation Sans,sans-serif" font-weight="bold"><text x="5.500" y="28.500" font-size="31" stroke="#fff" stroke-width=".700" textLength="18" lengthAdjust="spacingAndGlyphs">12</text><g opacity=".8"><text x="31" y="15.6" font-size="9.4" textLength="54" lengthAdjust="spacingAndGlyphs">CONSOMMATION</text><text x="31" y="26.6" font-size="9.4" textLength="58.5" lengthAdjust="spacingAndGlyphs">ET PRODUCTION</text><text x="31" y="37.6" font-size="9.4" textLength="54" lengthAdjust="spacingAndGlyphs">RESPONSABLES</text></g></g><path d="M48 64.500c-5-7-9.500-11.500-16-11.500a11.500 11.500 0 0 0 0 23c6.500 0 11-4.500 16-11.500s9.500-11.500 16-11.500a11.500 11.500 0 0 1 0 23c-4 0-7-1.500-9.500-4" fill="none" stroke="#fff" stroke-width="4.400" stroke-linecap="round"/><path d="M50 68.500l8.500-1-1 9z" fill="#fff"/></svg>
<div class="e" style="left:331.25px;top:491.50px"><i style="width:79.30px;letter-spacing:0.60px">Du 19 au 27 </i><b>- </b>Semaine<br><span style="letter-spacing:0.01px">européenne de la réduction</span><br><span style="letter-spacing:-0.14px">des déchets</span></div>
<svg class="i" style="left:294.1px;top:543.75px" width="28.75" height="28.75" viewBox="0 0 100 100" preserveAspectRatio="none"><rect width="100" height="100" fill="#BE8B3A"/><g fill="#fff" font-family="Liberation Sans,sans-serif" font-weight="bold"><text x="5.500" y="28.500" font-size="31" stroke="#fff" stroke-width=".700" textLength="18" lengthAdjust="spacingAndGlyphs">12</text><g opacity=".8"><text x="31" y="15.6" font-size="9.4" textLength="54" lengthAdjust="spacingAndGlyphs">CONSOMMATION</text><text x="31" y="26.6" font-size="9.4" textLength="58.5" lengthAdjust="spacingAndGlyphs">ET PRODUCTION</text><text x="31" y="37.6" font-size="9.4" textLength="54" lengthAdjust="spacingAndGlyphs">RESPONSABLES</text></g></g><path d="M48 64.500c-5-7-9.500-11.500-16-11.500a11.500 11.500 0 0 0 0 23c6.500 0 11-4.500 16-11.500s9.500-11.500 16-11.500a11.500 11.500 0 0 1 0 23c-4 0-7-1.500-9.500-4" fill="none" stroke="#fff" stroke-width="4.400" stroke-linecap="round"/><path d="M50 68.500l8.500-1-1 9z" fill="#fff"/></svg>
<div class="e" style="left:331.25px;top:551.00px"><i style="width:45.90px;letter-spacing:0.40px">Le 25 - </i><span style="letter-spacing:0.13px">Green friday</span></div>
<svg class="i" style="left:294.1px;top:623.0px" width="28.75" height="28.75" viewBox="0 0 100 100" preserveAspectRatio="none"><rect width="100" height="100" fill="#5DBB46"/><g fill="#fff" font-family="Liberation Sans,sans-serif" font-weight="bold"><text x="5.500" y="28.500" font-size="31" stroke="#fff" stroke-width=".700" textLength="18" lengthAdjust="spacingAndGlyphs">15</text><g opacity=".8"><text x="31" y="15.6" font-size="9.4" textLength="13.5" lengthAdjust="spacingAndGlyphs">VIE</text><text x="31" y="26.6" font-size="9.4" textLength="40.5" lengthAdjust="spacingAndGlyphs">TERRESTRE</text></g></g><g fill="#fff"><circle cx="38.500" cy="49" r="8"/><circle cx="32.500" cy="57" r="7.500"/><circle cx="44.500" cy="57" r="7.500"/><circle cx="38.500" cy="62" r="7.500"/><rect x="36.700" y="64" width="3.600" height="14"/><rect x="24.500" y="80" width="47" height="3"/><rect x="24.500" y="85.500" width="47" height="3"/></g><g fill="none" stroke="#fff" stroke-width="1.800" stroke-linecap="round"><path d="M54 49c3-3 6-3 8 0 2-3 5-3 7-1"/><path d="M57 61c2-2 4-2 6 0 2-2 4-2 6 0"/><path d="M60 71c2-1.500 3-1.500 5 0"/></g></svg>
<div class="e" style="left:331.25px;top:623.25px"><i style="width:35.20px;letter-spacing:-0.07px">Le 5 - </i><span style="letter-spacing:-0.36px">Journée mondiale</span><br><span style="letter-spacing:-0.83px">des sols</span></div>
<svg class="i" style="left:294.1px;top:663.0px" width="28.75" height="28.75" viewBox="0 0 100 100" preserveAspectRatio="none"><rect width="100" height="100" fill="#40804A"/><g fill="#fff" font-family="Liberation Sans,sans-serif" font-weight="bold"><text x="5.500" y="28.500" font-size="31" stroke="#fff" stroke-width=".700" textLength="18" lengthAdjust="spacingAndGlyphs">13</text><g opacity=".8"><text x="31" y="15" font-size="9.8" textLength="64" lengthAdjust="spacingAndGlyphs">MESURES RELATIVES</text><text x="31" y="27.2" font-size="9.8" textLength="64" lengthAdjust="spacingAndGlyphs">À LA LUTTE CONTRE</text><text x="31" y="39.4" font-size="9.8" textLength="64" lengthAdjust="spacingAndGlyphs">LES CHANGEMENTS</text><text x="31" y="51.6" font-size="9.8" textLength="49.5" lengthAdjust="spacingAndGlyphs">CLIMATIQUES</text></g></g><path d="M20 72.500c8.500-10.500 19-14.500 30-14.500s21.500 4 30 14.500c-8.500 10.500-19 14.500-30 14.500s-21.500-4-30-14.500z" fill="#fff"/><circle cx="50" cy="72.500" r="11" fill="#40804A"/><path d="M43.500 67.500c3-3 6-2 7 0s4 1 5 3-2 4-1 6-3 4-5 3-1-4-3-5-4-3-3-7z" fill="#fff" opacity=".85"/></svg>
<div class="e" style="left:331.25px;top:663.25px"><i style="width:36.20px;letter-spacing:0.07px">Le 8 - </i><span style="letter-spacing:-0.43px">Journée mondiale</span><br><span style="letter-spacing:-0.20px">du climat</span></div>
<svg class="i" style="left:294.1px;top:703.75px" width="28.75" height="28.68" viewBox="0 0 100 100" preserveAspectRatio="none"><rect width="100" height="100" fill="#DD1768"/><g fill="#fff" font-family="Liberation Sans,sans-serif" font-weight="bold"><text x="5.500" y="28.500" font-size="31" stroke="#fff" stroke-width=".700" textLength="18" lengthAdjust="spacingAndGlyphs">10</text><g opacity=".8"><text x="31" y="15.6" font-size="9.4" textLength="45" lengthAdjust="spacingAndGlyphs">INÉGALITÉS</text><text x="31" y="26.6" font-size="9.4" textLength="36" lengthAdjust="spacingAndGlyphs">RÉDUITES</text></g></g><g fill="#fff" transform="translate(0 -6)"><rect x="41" y="59" width="18" height="5.500"/><rect x="41" y="69" width="18" height="5.500"/><path d="M50 41l9 10H41z"/><path d="M50 93l9-10H41z"/><path d="M23 67l10-9v18z"/><path d="M77 67l-10-9v18z"/></g></svg><svg class="i" style="left:294.1px;top:732.12px" width="28.75" height="28.38" viewBox="0 0 100 100" preserveAspectRatio="none"><rect width="100" height="100" fill="#1B4A6D"/><g fill="#fff" font-family="Liberation Sans,sans-serif" font-weight="bold"><text x="5.500" y="28.500" font-size="31" stroke="#fff" stroke-width=".700" textLength="18" lengthAdjust="spacingAndGlyphs">17</text><g opacity=".8"><text x="31" y="15.6" font-size="9.4" textLength="64" lengthAdjust="spacingAndGlyphs">PARTENARIATS POUR</text><text x="31" y="26.6" font-size="9.4" textLength="63" lengthAdjust="spacingAndGlyphs">LA RÉALISATION</text><text x="31" y="37.6" font-size="9.4" textLength="58.5" lengthAdjust="spacingAndGlyphs">DES OBJECTIFS</text></g></g><g fill="none" stroke="#fff" stroke-width="2.300"><circle cx="49.0" cy="58.0" r="8.800"/><circle cx="58.0" cy="64.6" r="8.800"/><circle cx="54.6" cy="75.2" r="8.800"/><circle cx="43.4" cy="75.2" r="8.800"/><circle cx="40.0" cy="64.6" r="8.800"/><circle cx="49" cy="67.500" r="4.500"/></g></svg>
<div class="e" style="left:331.25px;top:716.50px"><i style="width:46.90px;letter-spacing:0.52px">Le 20 - </i><span style="letter-spacing:-0.12px">Journée internationale</span><br><span style="letter-spacing:-0.05px">de la solidarité humaine</span></div>
<svg class="i" style="left:294.1px;top:811.25px" width="28.75" height="29.0" viewBox="0 0 100 100" preserveAspectRatio="none"><rect width="100" height="100" fill="#C61F30"/><g fill="#fff" font-family="Liberation Sans,sans-serif" font-weight="bold"><text x="5.500" y="28.500" font-size="31" stroke="#fff" stroke-width=".700" textLength="10.5" lengthAdjust="spacingAndGlyphs">4</text><g opacity=".8"><text x="22.5" y="15.6" font-size="9.4" textLength="40.5" lengthAdjust="spacingAndGlyphs">ÉDUCATION</text><text x="22.5" y="26.6" font-size="9.4" textLength="45" lengthAdjust="spacingAndGlyphs">DE QUALITÉ</text></g></g><g fill="#fff"><path d="M24 43l19 5.500v32l-19-5.500z"/><path d="M65 43l-19 5.500v32l19-5.500z"/><path d="M21.500 49v30l21.500 6.500h3l21.500-6.500V49h-1.800v28.500l-21.200 6-21.200-6V49z"/><path d="M72.500 45h6v31l-3 7.500-3-7.500z"/><rect x="72.500" y="39.500" width="6" height="4" rx="1.500"/></g></svg>
<div class="e" style="left:331.25px;top:811.75px"><i style="width:46.10px;letter-spacing:0.42px">Le 24 - </i><span style="letter-spacing:-0.08px">Journée internationale</span><br><span style="letter-spacing:-0.02px">de l’éducation (UNESCO)</span></div>
<svg class="i" style="left:537.0px;top:162.0px" width="29.7" height="28.68" viewBox="0 0 100 100" preserveAspectRatio="none"><rect width="100" height="100" fill="#2A92D8"/><g fill="#fff" font-family="Liberation Sans,sans-serif" font-weight="bold"><text x="5.500" y="28.500" font-size="31" stroke="#fff" stroke-width=".700" textLength="18" lengthAdjust="spacingAndGlyphs">14</text><g opacity=".8"><text x="31" y="15.6" font-size="9.4" textLength="13.5" lengthAdjust="spacingAndGlyphs">VIE</text><text x="31" y="26.6" font-size="9.4" textLength="40.5" lengthAdjust="spacingAndGlyphs">AQUATIQUE</text></g></g><g fill="none" stroke="#fff" stroke-width="2.600"><path d="M21 45c4-4 7-4 11 0s7 4 11 0 7-4 11 0 7 4 11 0 7-4 11 0"/><path d="M21 52.500c4-4 7-4 11 0s7 4 11 0 7-4 11 0 7 4 11 0 7-4 11 0"/></g><path d="M21 60.500l12 7c6-6 13-8 21-8 10 0 18 5 22 12-4 7-12 12-22 12-8 0-15-2-21-8l-12 7 5-11z" fill="#fff"/><circle cx="62" cy="69" r="3.200" fill="#2A92D8"/></svg><svg class="i" style="left:537.0px;top:190.38px" width="29.7" height="28.38" viewBox="0 0 100 100" preserveAspectRatio="none"><rect width="100" height="100" fill="#5DBB46"/><g fill="#fff" font-family="Liberation Sans,sans-serif" font-weight="bold"><text x="5.500" y="28.500" font-size="31" stroke="#fff" stroke-width=".700" textLength="18" lengthAdjust="spacingAndGlyphs">15</text><g opacity=".8"><text x="31" y="15.6" font-size="9.4" textLength="13.5" lengthAdjust="spacingAndGlyphs">VIE</text><text x="31" y="26.6" font-size="9.4" textLength="40.5" lengthAdjust="spacingAndGlyphs">TERRESTRE</text></g></g><g fill="#fff"><circle cx="38.500" cy="49" r="8"/><circle cx="32.500" cy="57" r="7.500"/><circle cx="44.500" cy="57" r="7.500"/><circle cx="38.500" cy="62" r="7.500"/><rect x="36.700" y="64" width="3.600" height="14"/><rect x="24.500" y="80" width="47" height="3"/><rect x="24.500" y="85.500" width="47" height="3"/></g><g fill="none" stroke="#fff" stroke-width="1.800" stroke-linecap="round"><path d="M54 49c3-3 6-3 8 0 2-3 5-3 7-1"/><path d="M57 61c2-2 4-2 6 0 2-2 4-2 6 0"/><path d="M60 71c2-1.500 3-1.500 5 0"/></g></svg>
<div class="e" style="left:575.0px;top:174.50px"><i style="width:37.60px;letter-spacing:0.27px">Le 2 - </i><span style="letter-spacing:-0.12px">Journée mondiale</span><br><span style="letter-spacing:-0.31px">des zones humides</span></div>
<svg class="i" style="left:537.0px;top:230.0px" width="29.7" height="28.3" viewBox="0 0 100 100" preserveAspectRatio="none"><rect width="100" height="100" fill="#BE8B3A"/><g fill="#fff" font-family="Liberation Sans,sans-serif" font-weight="bold"><text x="5.500" y="28.500" font-size="31" stroke="#fff" stroke-width=".700" textLength="18" lengthAdjust="spacingAndGlyphs">12</text><g opacity=".8"><text x="31" y="15.6" font-size="9.4" textLength="54" lengthAdjust="spacingAndGlyphs">CONSOMMATION</text><text x="31" y="26.6" font-size="9.4" textLength="58.5" lengthAdjust="spacingAndGlyphs">ET PRODUCTION</text><text x="31" y="37.6" font-size="9.4" textLength="54" lengthAdjust="spacingAndGlyphs">RESPONSABLES</text></g></g><path d="M48 64.500c-5-7-9.500-11.500-16-11.500a11.500 11.500 0 0 0 0 23c6.500 0 11-4.500 16-11.500s9.500-11.500 16-11.500a11.500 11.500 0 0 1 0 23c-4 0-7-1.500-9.500-4" fill="none" stroke="#fff" stroke-width="4.400" stroke-linecap="round"/><path d="M50 68.500l8.500-1-1 9z" fill="#fff"/></svg>
<div class="e" style="left:575.0px;top:230.25px"><i style="width:72.60px;letter-spacing:0.57px">Du 6 au 8 - </i><span style="letter-spacing:-0.48px">Journées mondiales</span><br><span style="letter-spacing:-0.11px">sans téléphone portable</span></div>
<svg class="i" style="left:537.0px;top:310.0px" width="29.7" height="29.05" viewBox="0 0 100 100" preserveAspectRatio="none"><rect width="100" height="100" fill="#2A92D8"/><g fill="#fff" font-family="Liberation Sans,sans-serif" font-weight="bold"><text x="5.500" y="28.500" font-size="31" stroke="#fff" stroke-width=".700" textLength="18" lengthAdjust="spacingAndGlyphs">14</text><g opacity=".8"><text x="31" y="15.6" font-size="9.4" textLength="13.5" lengthAdjust="spacingAndGlyphs">VIE</text><text x="31" y="26.6" font-size="9.4" textLength="40.5" lengthAdjust="spacingAndGlyphs">AQUATIQUE</text></g></g><g fill="none" stroke="#fff" stroke-width="2.600"><path d="M21 45c4-4 7-4 11 0s7 4 11 0 7-4 11 0 7 4 11 0 7-4 11 0"/><path d="M21 52.500c4-4 7-4 11 0s7 4 11 0 7-4 11 0 7 4 11 0 7-4 11 0"/></g><path d="M21 60.500l12 7c6-6 13-8 21-8 10 0 18 5 22 12-4 7-12 12-22 12-8 0-15-2-21-8l-12 7 5-11z" fill="#fff"/><circle cx="62" cy="69" r="3.200" fill="#2A92D8"/></svg><svg class="i" style="left:537.0px;top:338.75px" width="29.7" height="28.75" viewBox="0 0 100 100" preserveAspectRatio="none"><rect width="100" height="100" fill="#5DBB46"/><g fill="#fff" font-family="Liberation Sans,sans-serif" font-weight="bold"><text x="5.500" y="28.500" font-size="31" stroke="#fff" stroke-width=".700" textLength="18" lengthAdjust="spacingAndGlyphs">15</text><g opacity=".8"><text x="31" y="15.6" font-size="9.4" textLength="13.5" lengthAdjust="spacingAndGlyphs">VIE</text><text x="31" y="26.6" font-size="9.4" textLength="40.5" lengthAdjust="spacingAndGlyphs">TERRESTRE</text></g></g><g fill="#fff"><circle cx="38.500" cy="49" r="8"/><circle cx="32.500" cy="57" r="7.500"/><circle cx="44.500" cy="57" r="7.500"/><circle cx="38.500" cy="62" r="7.500"/><rect x="36.700" y="64" width="3.600" height="14"/><rect x="24.500" y="80" width="47" height="3"/><rect x="24.500" y="85.500" width="47" height="3"/></g><g fill="none" stroke="#fff" stroke-width="1.800" stroke-linecap="round"><path d="M54 49c3-3 6-3 8 0 2-3 5-3 7-1"/><path d="M57 61c2-2 4-2 6 0 2-2 4-2 6 0"/><path d="M60 71c2-1.500 3-1.500 5 0"/></g></svg>
<div class="e" style="left:575.0px;top:323.25px"><i style="width:37.60px;letter-spacing:0.27px">Le 3 - </i><span style="letter-spacing:-0.12px">Journée mondiale</span><br><span style="letter-spacing:-0.30px">de la vie sauvage</span></div>
<svg class="i" style="left:537.0px;top:378.75px" width="29.7" height="28.75" viewBox="0 0 100 100"><path d="M51.9 1.5A48.5 48.5 0 0 1 65.7 4.1L59.2 23.0A28.5 28.5 0 0 0 51.1 21.5Z" fill="#E5243B"/><path d="M69.3 5.5A48.5 48.5 0 0 1 81.2 12.9L68.3 28.2A28.5 28.5 0 0 0 61.3 23.9Z" fill="#DDA63A"/><path d="M84.1 15.5A48.5 48.5 0 0 1 92.5 26.7L75.0 36.3A28.5 28.5 0 0 0 70.0 29.7Z" fill="#4C9F38"/><path d="M94.2 30.1A48.5 48.5 0 0 1 98.1 43.6L78.3 46.2A28.5 28.5 0 0 0 76.0 38.3Z" fill="#C5192D"/><path d="M98.4 47.5A48.5 48.5 0 0 1 97.1 61.4L77.7 56.7A28.5 28.5 0 0 0 78.5 48.5Z" fill="#FF3A21"/><path d="M96.1 65.1A48.5 48.5 0 0 1 89.8 77.7L73.4 66.3A28.5 28.5 0 0 0 77.1 58.9Z" fill="#26BDE2"/><path d="M87.5 80.8A48.5 48.5 0 0 1 77.2 90.2L66.0 73.6A28.5 28.5 0 0 0 72.0 68.1Z" fill="#FCC30B"/><path d="M73.9 92.2A48.5 48.5 0 0 1 60.8 97.3L56.4 77.8A28.5 28.5 0 0 0 64.0 74.8Z" fill="#A21942"/><path d="M57.0 98.0A48.5 48.5 0 0 1 43.0 98.0L45.9 78.2A28.5 28.5 0 0 0 54.1 78.2Z" fill="#FD6925"/><path d="M39.2 97.3A48.5 48.5 0 0 1 26.1 92.2L36.0 74.8A28.5 28.5 0 0 0 43.6 77.8Z" fill="#DD1367"/><path d="M22.8 90.2A48.5 48.5 0 0 1 12.5 80.8L28.0 68.1A28.5 28.5 0 0 0 34.0 73.6Z" fill="#FD9D24"/><path d="M10.2 77.7A48.5 48.5 0 0 1 3.9 65.1L22.9 58.9A28.5 28.5 0 0 0 26.6 66.3Z" fill="#BF8B2E"/><path d="M2.9 61.4A48.5 48.5 0 0 1 1.6 47.5L21.5 48.5A28.5 28.5 0 0 0 22.3 56.7Z" fill="#3F7E44"/><path d="M1.9 43.6A48.5 48.5 0 0 1 5.8 30.1L24.0 38.3A28.5 28.5 0 0 0 21.7 46.2Z" fill="#0A97D9"/><path d="M7.5 26.7A48.5 48.5 0 0 1 15.9 15.5L30.0 29.7A28.5 28.5 0 0 0 25.0 36.3Z" fill="#56C02B"/><path d="M18.8 12.9A48.5 48.5 0 0 1 30.7 5.5L38.7 23.9A28.5 28.5 0 0 0 31.7 28.2Z" fill="#00689D"/><path d="M34.3 4.1A48.5 48.5 0 0 1 48.1 1.5L48.9 21.5A28.5 28.5 0 0 0 40.8 23.0Z" fill="#19486A"/></svg>
<div class="e" style="left:575.0px;top:379.00px"><i style="width:37.60px;letter-spacing:0.27px">Le 4 - </i><span style="letter-spacing:-0.12px">Journée mondiale</span><br><span style="letter-spacing:-0.06px">de l’ingénierie pour le</span><br><span style="letter-spacing:0.09px">développement durable</span></div>
<svg class="i" style="left:537.0px;top:433.0px" width="29.7" height="29.0" viewBox="0 0 100 100" preserveAspectRatio="none"><rect width="100" height="100" fill="#F0452E"/><g fill="#fff" font-family="Liberation Sans,sans-serif" font-weight="bold"><text x="5.500" y="28.500" font-size="31" stroke="#fff" stroke-width=".700" textLength="10.5" lengthAdjust="spacingAndGlyphs">5</text><g opacity=".8"><text x="22.5" y="15.6" font-size="9.4" textLength="58.5" lengthAdjust="spacingAndGlyphs">ÉGALITÉ ENTRE</text><text x="22.5" y="26.6" font-size="9.4" textLength="40.5" lengthAdjust="spacingAndGlyphs">LES SEXES</text></g></g><g fill="none" stroke="#fff" stroke-width="3.600"><circle cx="47" cy="61" r="13.500"/><path d="M47 74.500v15M39.500 83h15M56.500 51.500l12-12M58.500 39h11v11"/></g><g fill="#fff"><rect x="40.500" y="55.500" width="13" height="3.600"/><rect x="40.500" y="63" width="13" height="3.600"/></g></svg>
<div class="e" style="left:575.0px;top:433.50px"><i style="width:37.60px;letter-spacing:0.27px">Le 8 - </i><span style="letter-spacing:-0.07px">Journée internationale</span><br><span style="letter-spacing:-0.27px">des femmes</span></div>
<svg class="i" style="left:537.0px;top:473.0px" width="29.7" height="28.55" viewBox="0 0 100 100" preserveAspectRatio="none"><rect width="100" height="100" fill="#C61F30"/><g fill="#fff" font-family="Liberation Sans,sans-serif" font-weight="bold"><text x="5.500" y="28.500" font-size="31" stroke="#fff" stroke-width=".700" textLength="10.5" lengthAdjust="spacingAndGlyphs">4</text><g opacity=".8"><text x="22.5" y="15.6" font-size="9.4" textLength="40.5" lengthAdjust="spacingAndGlyphs">ÉDUCATION</text><text x="22.5" y="26.6" font-size="9.4" textLength="45" lengthAdjust="spacingAndGlyphs">DE QUALITÉ</text></g></g><g fill="#fff"><path d="M24 43l19 5.500v32l-19-5.500z"/><path d="M65 43l-19 5.500v32l19-5.500z"/><path d="M21.500 49v30l21.500 6.500h3l21.500-6.500V49h-1.800v28.500l-21.200 6-21.200-6V49z"/><path d="M72.500 45h6v31l-3 7.500-3-7.500z"/><rect x="72.500" y="39.500" width="6" height="4" rx="1.500"/></g></svg><svg class="i" style="left:537.0px;top:501.25px" width="29.7" height="28.25" viewBox="0 0 100 100" preserveAspectRatio="none"><rect width="100" height="100" fill="#5DBB46"/><g fill="#fff" font-family="Liberation Sans,sans-serif" font-weight="bold"><text x="5.500" y="28.500" font-size="31" stroke="#fff" stroke-width=".700" textLength="18" lengthAdjust="spacingAndGlyphs">15</text><g opacity=".8"><text x="31" y="15.6" font-size="9.4" textLength="13.5" lengthAdjust="spacingAndGlyphs">VIE</text><text x="31" y="26.6" font-size="9.4" textLength="40.5" lengthAdjust="spacingAndGlyphs">TERRESTRE</text></g></g><g fill="#fff"><circle cx="38.500" cy="49" r="8"/><circle cx="32.500" cy="57" r="7.500"/><circle cx="44.500" cy="57" r="7.500"/><circle cx="38.500" cy="62" r="7.500"/><rect x="36.700" y="64" width="3.600" height="14"/><rect x="24.500" y="80" width="47" height="3"/><rect x="24.500" y="85.500" width="47" height="3"/></g><g fill="none" stroke="#fff" stroke-width="1.800" stroke-linecap="round"><path d="M54 49c3-3 6-3 8 0 2-3 5-3 7-1"/><path d="M57 61c2-2 4-2 6 0 2-2 4-2 6 0"/><path d="M60 71c2-1.500 3-1.500 5 0"/></g></svg>
<div class="e" style="left:575.0px;top:485.75px"><i style="width:85.80px;letter-spacing:0.43px">Du 14 au 19 - </i><span style="letter-spacing:0.03px">Semaine</span><br><span style="letter-spacing:-0.16px">du jardinage à l’école</span></div>
<svg class="i" style="left:537.0px;top:541.25px" width="29.7" height="28.3" viewBox="0 0 100 100" preserveAspectRatio="none"><rect width="100" height="100" fill="#BE8B3A"/><g fill="#fff" font-family="Liberation Sans,sans-serif" font-weight="bold"><text x="5.500" y="28.500" font-size="31" stroke="#fff" stroke-width=".700" textLength="18" lengthAdjust="spacingAndGlyphs">12</text><g opacity=".8"><text x="31" y="15.6" font-size="9.4" textLength="54" lengthAdjust="spacingAndGlyphs">CONSOMMATION</text><text x="31" y="26.6" font-size="9.4" textLength="58.5" lengthAdjust="spacingAndGlyphs">ET PRODUCTION</text><text x="31" y="37.6" font-size="9.4" textLength="54" lengthAdjust="spacingAndGlyphs">RESPONSABLES</text></g></g><path d="M48 64.500c-5-7-9.500-11.500-16-11.500a11.500 11.500 0 0 0 0 23c6.500 0 11-4.500 16-11.500s9.500-11.500 16-11.500a11.500 11.500 0 0 1 0 23c-4 0-7-1.500-9.500-4" fill="none" stroke="#fff" stroke-width="4.400" stroke-linecap="round"/><path d="M50 68.500l8.500-1-1 9z" fill="#fff"/></svg>
<div class="e" style="left:575.0px;top:540.75px"><i style="width:43.10px;letter-spacing:0.05px">Le 18 - </i><span style="letter-spacing:-0.07px">Journée mondiale</span><br><span style="letter-spacing:-0.25px">du recyclage</span></div>
<svg class="i" style="left:537.0px;top:581.25px" width="29.7" height="28.3" viewBox="0 0 100 100" preserveAspectRatio="none"><rect width="100" height="100" fill="#BE8B3A"/><g fill="#fff" font-family="Liberation Sans,sans-serif" font-weight="bold"><text x="5.500" y="28.500" font-size="31" stroke="#fff" stroke-width=".700" textLength="18" lengthAdjust="spacingAndGlyphs">12</text><g opacity=".8"><text x="31" y="15.6" font-size="9.4" textLength="54" lengthAdjust="spacingAndGlyphs">CONSOMMATION</text><text x="31" y="26.6" font-size="9.4" textLength="58.5" lengthAdjust="spacingAndGlyphs">ET PRODUCTION</text><text x="31" y="37.6" font-size="9.4" textLength="54" lengthAdjust="spacingAndGlyphs">RESPONSABLES</text></g></g><path d="M48 64.500c-5-7-9.500-11.500-16-11.500a11.500 11.500 0 0 0 0 23c6.500 0 11-4.500 16-11.500s9.500-11.500 16-11.500a11.500 11.500 0 0 1 0 23c-4 0-7-1.500-9.500-4" fill="none" stroke="#fff" stroke-width="4.400" stroke-linecap="round"/><path d="M50 68.500l8.500-1-1 9z" fill="#fff"/></svg>
<div class="e" style="left:575.0px;top:587.75px"><i style="width:46.30px;letter-spacing:0.45px">Le 20 - </i><span style="letter-spacing:-0.40px">Journée sans viande</span></div>
<svg class="i" style="left:537.0px;top:620.0px" width="29.7" height="29.7" viewBox="0 0 100 100" preserveAspectRatio="none"><rect width="100" height="100" fill="#5DBB46"/><g fill="#fff" font-family="Liberation Sans,sans-serif" font-weight="bold"><text x="5.500" y="28.500" font-size="31" stroke="#fff" stroke-width=".700" textLength="18" lengthAdjust="spacingAndGlyphs">15</text><g opacity=".8"><text x="31" y="15.6" font-size="9.4" textLength="13.5" lengthAdjust="spacingAndGlyphs">VIE</text><text x="31" y="26.6" font-size="9.4" textLength="40.5" lengthAdjust="spacingAndGlyphs">TERRESTRE</text></g></g><g fill="#fff"><circle cx="38.500" cy="49" r="8"/><circle cx="32.500" cy="57" r="7.500"/><circle cx="44.500" cy="57" r="7.500"/><circle cx="38.500" cy="62" r="7.500"/><rect x="36.700" y="64" width="3.600" height="14"/><rect x="24.500" y="80" width="47" height="3"/><rect x="24.500" y="85.500" width="47" height="3"/></g><g fill="none" stroke="#fff" stroke-width="1.800" stroke-linecap="round"><path d="M54 49c3-3 6-3 8 0 2-3 5-3 7-1"/><path d="M57 61c2-2 4-2 6 0 2-2 4-2 6 0"/><path d="M60 71c2-1.500 3-1.500 5 0"/></g></svg>
<div class="e" style="left:575.0px;top:620.75px"><i style="width:43.10px;letter-spacing:0.05px">Le 21 - </i>Journée internationale<br><span style="letter-spacing:-0.20px">des forêts</span></div>
<svg class="i" style="left:537.0px;top:660.0px" width="29.7" height="29.7" viewBox="0 0 100 100" preserveAspectRatio="none"><rect width="100" height="100" fill="#2BB6E3"/><g fill="#fff" font-family="Liberation Sans,sans-serif" font-weight="bold"><text x="5.500" y="28.500" font-size="31" stroke="#fff" stroke-width=".700" textLength="10.5" lengthAdjust="spacingAndGlyphs">6</text><g opacity=".8"><text x="22.5" y="15.6" font-size="9.4" textLength="58.5" lengthAdjust="spacingAndGlyphs">EAU PROPRE ET</text><text x="22.5" y="26.6" font-size="9.4" textLength="63" lengthAdjust="spacingAndGlyphs">ASSAINISSEMENT</text></g></g><g fill="#fff"><path d="M31 46h38l-5 31h-9v6h5l-10.500 9-10.500-9h5v-6h-8z"/><rect x="30" y="40" width="40" height="4"/></g><path d="M50 52c4 6 6.500 9 6.500 12.500a6.500 6.500 0 0 1-13 0C43.500 61 46 58 50 52z" fill="#2BB6E3"/></svg>
<div class="e" style="left:575.0px;top:660.25px"><i style="width:46.30px;letter-spacing:0.45px">Le 22 - </i><span style="letter-spacing:-0.21px">Journée mondiale</span><br><span style="letter-spacing:-0.23px">de l’eau</span></div>
<svg class="i" style="left:537.0px;top:701.25px" width="29.7" height="29.05" viewBox="0 0 100 100" preserveAspectRatio="none"><rect width="100" height="100" fill="#C61F30"/><g fill="#fff" font-family="Liberation Sans,sans-serif" font-weight="bold"><text x="5.500" y="28.500" font-size="31" stroke="#fff" stroke-width=".700" textLength="10.5" lengthAdjust="spacingAndGlyphs">4</text><g opacity=".8"><text x="22.5" y="15.6" font-size="9.4" textLength="40.5" lengthAdjust="spacingAndGlyphs">ÉDUCATION</text><text x="22.5" y="26.6" font-size="9.4" textLength="45" lengthAdjust="spacingAndGlyphs">DE QUALITÉ</text></g></g><g fill="#fff"><path d="M24 43l19 5.500v32l-19-5.500z"/><path d="M65 43l-19 5.500v32l19-5.500z"/><path d="M21.500 49v30l21.500 6.500h3l21.500-6.500V49h-1.800v28.500l-21.200 6-21.200-6V49z"/><path d="M72.500 45h6v31l-3 7.500-3-7.500z"/><rect x="72.500" y="39.500" width="6" height="4" rx="1.500"/></g></svg><svg class="i" style="left:537.0px;top:730.0px" width="29.7" height="28.75" viewBox="0 0 100 100" preserveAspectRatio="none"><rect width="100" height="100" fill="#5DBB46"/><g fill="#fff" font-family="Liberation Sans,sans-serif" font-weight="bold"><text x="5.500" y="28.500" font-size="31" stroke="#fff" stroke-width=".700" textLength="18" lengthAdjust="spacingAndGlyphs">15</text><g opacity=".8"><text x="31" y="15.6" font-size="9.4" textLength="13.5" lengthAdjust="spacingAndGlyphs">VIE</text><text x="31" y="26.6" font-size="9.4" textLength="40.5" lengthAdjust="spacingAndGlyphs">TERRESTRE</text></g></g><g fill="#fff"><circle cx="38.500" cy="49" r="8"/><circle cx="32.500" cy="57" r="7.500"/><circle cx="44.500" cy="57" r="7.500"/><circle cx="38.500" cy="62" r="7.500"/><rect x="36.700" y="64" width="3.600" height="14"/><rect x="24.500" y="80" width="47" height="3"/><rect x="24.500" y="85.500" width="47" height="3"/></g><g fill="none" stroke="#fff" stroke-width="1.800" stroke-linecap="round"><path d="M54 49c3-3 6-3 8 0 2-3 5-3 7-1"/><path d="M57 61c2-2 4-2 6 0 2-2 4-2 6 0"/><path d="M60 71c2-1.500 3-1.500 5 0"/></g></svg>
<div class="e" style="left:575.0px;top:714.25px"><i style="width:88.50px;letter-spacing:0.62px">Du 26 au 31 - </i><span style="letter-spacing:-0.60px">Tous</span><br><span style="letter-spacing:-0.02px">au Compost<span style="margin-left:1.5px">!</span></span></div>
<svg class="i" style="left:537.0px;top:769.0px" width="29.7" height="28.68" viewBox="0 0 100 100" preserveAspectRatio="none"><rect width="100" height="100" fill="#C61F30"/><g fill="#fff" font-family="Liberation Sans,sans-serif" font-weight="bold"><text x="5.500" y="28.500" font-size="31" stroke="#fff" stroke-width=".700" textLength="10.5" lengthAdjust="spacingAndGlyphs">4</text><g opacity=".8"><text x="22.5" y="15.6" font-size="9.4" textLength="40.5" lengthAdjust="spacingAndGlyphs">ÉDUCATION</text><text x="22.5" y="26.6" font-size="9.4" textLength="45" lengthAdjust="spacingAndGlyphs">DE QUALITÉ</text></g></g><g fill="#fff"><path d="M24 43l19 5.500v32l-19-5.500z"/><path d="M65 43l-19 5.500v32l19-5.500z"/><path d="M21.500 49v30l21.500 6.500h3l21.500-6.500V49h-1.800v28.500l-21.200 6-21.200-6V49z"/><path d="M72.500 45h6v31l-3 7.500-3-7.500z"/><rect x="72.500" y="39.500" width="6" height="4" rx="1.500"/></g></svg><svg class="i" style="left:537.0px;top:797.38px" width="29.7" height="28.38" viewBox="0 0 100 100" preserveAspectRatio="none"><rect width="100" height="100" fill="#A31C44"/><g fill="#fff" font-family="Liberation Sans,sans-serif" font-weight="bold"><text x="5.500" y="28.500" font-size="31" stroke="#fff" stroke-width=".700" textLength="10.5" lengthAdjust="spacingAndGlyphs">8</text><g opacity=".8"><text x="22.5" y="15.6" font-size="9.4" textLength="63" lengthAdjust="spacingAndGlyphs">TRAVAIL DÉCENT</text><text x="22.5" y="26.6" font-size="9.4" textLength="58.5" lengthAdjust="spacingAndGlyphs">ET CROISSANCE</text><text x="22.5" y="37.6" font-size="9.4" textLength="45" lengthAdjust="spacingAndGlyphs">ÉCONOMIQUE</text></g></g><g fill="#fff"><rect x="31" y="68" width="9" height="20"/><rect x="44" y="74" width="9" height="14"/><rect x="57" y="60" width="9" height="28"/><path d="M61 49l9.500-3.500-2 10z"/></g><path d="M29 65l12-11.500 7.500 9.500 17-16" fill="none" stroke="#fff" stroke-width="3.200" stroke-linejoin="round"/></svg>
<div class="e" style="left:575.0px;top:777.25px"><i style="width:87.05px;letter-spacing:0.46px">Du 27 au 1<sup>er</sup> - </i><span style="letter-spacing:0.05px">Semaine de</span><br><span style="letter-spacing:-0.13px">l’économie sociale et solidaire</span><br><span style="letter-spacing:-0.15px">à l’école</span></div>
<svg class="i" style="left:776.2px;top:156.25px" width="29.5" height="28.43" viewBox="0 0 100 100" preserveAspectRatio="none"><rect width="100" height="100" fill="#C61F30"/><g fill="#fff" font-family="Liberation Sans,sans-serif" font-weight="bold"><text x="5.500" y="28.500" font-size="31" stroke="#fff" stroke-width=".700" textLength="10.5" lengthAdjust="spacingAndGlyphs">4</text><g opacity=".8"><text x="22.5" y="15.6" font-size="9.4" textLength="40.5" lengthAdjust="spacingAndGlyphs">ÉDUCATION</text><text x="22.5" y="26.6" font-size="9.4" textLength="45" lengthAdjust="spacingAndGlyphs">DE QUALITÉ</text></g></g><g fill="#fff"><path d="M24 43l19 5.500v32l-19-5.500z"/><path d="M65 43l-19 5.500v32l19-5.500z"/><path d="M21.500 49v30l21.500 6.500h3l21.500-6.500V49h-1.800v28.500l-21.200 6-21.200-6V49z"/><path d="M72.500 45h6v31l-3 7.500-3-7.500z"/><rect x="72.500" y="39.500" width="6" height="4" rx="1.500"/></g></svg><svg class="i" style="left:776.2px;top:184.38px" width="29.5" height="28.12" viewBox="0 0 100 100" preserveAspectRatio="none"><rect width="100" height="100" fill="#5DBB46"/><g fill="#fff" font-family="Liberation Sans,sans-serif" font-weight="bold"><text x="5.500" y="28.500" font-size="31" stroke="#fff" stroke-width=".700" textLength="18" lengthAdjust="spacingAndGlyphs">15</text><g opacity=".8"><text x="31" y="15.6" font-size="9.4" textLength="13.5" lengthAdjust="spacingAndGlyphs">VIE</text><text x="31" y="26.6" font-size="9.4" textLength="40.5" lengthAdjust="spacingAndGlyphs">TERRESTRE</text></g></g><g fill="#fff"><circle cx="38.500" cy="49" r="8"/><circle cx="32.500" cy="57" r="7.500"/><circle cx="44.500" cy="57" r="7.500"/><circle cx="38.500" cy="62" r="7.500"/><rect x="36.700" y="64" width="3.600" height="14"/><rect x="24.500" y="80" width="47" height="3"/><rect x="24.500" y="85.500" width="47" height="3"/></g><g fill="none" stroke="#fff" stroke-width="1.800" stroke-linecap="round"><path d="M54 49c3-3 6-3 8 0 2-3 5-3 7-1"/><path d="M57 61c2-2 4-2 6 0 2-2 4-2 6 0"/><path d="M60 71c2-1.500 3-1.500 5 0"/></g></svg>
<div class="e" style="left:814.5px;top:169.00px"><i style="width:86.55px;letter-spacing:0.42px">Du 1<sup>er</sup> au 10 - </i><span style="letter-spacing:-0.47px">Tous au</span><br><span style="letter-spacing:-0.09px">Compost<span style="margin-left:1.5px">!</span></span></div>
<svg class="i" style="left:776.2px;top:224.5px" width="29.5" height="28.5" viewBox="0 0 100 100"><path d="M51.9 1.5A48.5 48.5 0 0 1 65.7 4.1L59.2 23.0A28.5 28.5 0 0 0 51.1 21.5Z" fill="#E5243B"/><path d="M69.3 5.5A48.5 48.5 0 0 1 81.2 12.9L68.3 28.2A28.5 28.5 0 0 0 61.3 23.9Z" fill="#DDA63A"/><path d="M84.1 15.5A48.5 48.5 0 0 1 92.5 26.7L75.0 36.3A28.5 28.5 0 0 0 70.0 29.7Z" fill="#4C9F38"/><path d="M94.2 30.1A48.5 48.5 0 0 1 98.1 43.6L78.3 46.2A28.5 28.5 0 0 0 76.0 38.3Z" fill="#C5192D"/><path d="M98.4 47.5A48.5 48.5 0 0 1 97.1 61.4L77.7 56.7A28.5 28.5 0 0 0 78.5 48.5Z" fill="#FF3A21"/><path d="M96.1 65.1A48.5 48.5 0 0 1 89.8 77.7L73.4 66.3A28.5 28.5 0 0 0 77.1 58.9Z" fill="#26BDE2"/><path d="M87.5 80.8A48.5 48.5 0 0 1 77.2 90.2L66.0 73.6A28.5 28.5 0 0 0 72.0 68.1Z" fill="#FCC30B"/><path d="M73.9 92.2A48.5 48.5 0 0 1 60.8 97.3L56.4 77.8A28.5 28.5 0 0 0 64.0 74.8Z" fill="#A21942"/><path d="M57.0 98.0A48.5 48.5 0 0 1 43.0 98.0L45.9 78.2A28.5 28.5 0 0 0 54.1 78.2Z" fill="#FD6925"/><path d="M39.2 97.3A48.5 48.5 0 0 1 26.1 92.2L36.0 74.8A28.5 28.5 0 0 0 43.6 77.8Z" fill="#DD1367"/><path d="M22.8 90.2A48.5 48.5 0 0 1 12.5 80.8L28.0 68.1A28.5 28.5 0 0 0 34.0 73.6Z" fill="#FD9D24"/><path d="M10.2 77.7A48.5 48.5 0 0 1 3.9 65.1L22.9 58.9A28.5 28.5 0 0 0 26.6 66.3Z" fill="#BF8B2E"/><path d="M2.9 61.4A48.5 48.5 0 0 1 1.6 47.5L21.5 48.5A28.5 28.5 0 0 0 22.3 56.7Z" fill="#3F7E44"/><path d="M1.9 43.6A48.5 48.5 0 0 1 5.8 30.1L24.0 38.3A28.5 28.5 0 0 0 21.7 46.2Z" fill="#0A97D9"/><path d="M7.5 26.7A48.5 48.5 0 0 1 15.9 15.5L30.0 29.7A28.5 28.5 0 0 0 25.0 36.3Z" fill="#56C02B"/><path d="M18.8 12.9A48.5 48.5 0 0 1 30.7 5.5L38.7 23.9A28.5 28.5 0 0 0 31.7 28.2Z" fill="#00689D"/><path d="M34.3 4.1A48.5 48.5 0 0 1 48.1 1.5L48.9 21.5A28.5 28.5 0 0 0 40.8 23.0Z" fill="#19486A"/></svg>
<div class="e" style="left:814.5px;top:224.00px"><i style="width:36.60px;letter-spacing:0.13px">Le 6 - </i><span style="letter-spacing:-0.03px">Journée internationale</span><br><span style="letter-spacing:-0.14px">du sport au service du</span><br><span style="letter-spacing:0.12px">développement durable</span><br><span style="letter-spacing:-0.03px">et de la paix</span></div>
<svg class="i" style="left:776.2px;top:293.0px" width="29.5" height="29.0" viewBox="0 0 100 100" preserveAspectRatio="none"><rect width="100" height="100" fill="#BE8B3A"/><g fill="#fff" font-family="Liberation Sans,sans-serif" font-weight="bold"><text x="5.500" y="28.500" font-size="31" stroke="#fff" stroke-width=".700" textLength="18" lengthAdjust="spacingAndGlyphs">12</text><g opacity=".8"><text x="31" y="15.6" font-size="9.4" textLength="54" lengthAdjust="spacingAndGlyphs">CONSOMMATION</text><text x="31" y="26.6" font-size="9.4" textLength="58.5" lengthAdjust="spacingAndGlyphs">ET PRODUCTION</text><text x="31" y="37.6" font-size="9.4" textLength="54" lengthAdjust="spacingAndGlyphs">RESPONSABLES</text></g></g><path d="M48 64.500c-5-7-9.500-11.500-16-11.500a11.500 11.500 0 0 0 0 23c6.500 0 11-4.500 16-11.500s9.500-11.500 16-11.500a11.500 11.500 0 0 1 0 23c-4 0-7-1.500-9.500-4" fill="none" stroke="#fff" stroke-width="4.400" stroke-linecap="round"/><path d="M50 68.500l8.500-1-1 9z" fill="#fff"/></svg>
<div class="e" style="left:814.5px;top:293.50px"><i style="width:87.35px;letter-spacing:0.54px">Du 18 au 24 - </i><span style="letter-spacing:-0.50px">Fashion</span><br><span style="letter-spacing:-0.07px">revolution</span></div>
<svg class="i" style="left:776.2px;top:333.25px" width="29.5" height="28.75" viewBox="0 0 100 100"><path d="M51.9 1.5A48.5 48.5 0 0 1 65.7 4.1L59.2 23.0A28.5 28.5 0 0 0 51.1 21.5Z" fill="#E5243B"/><path d="M69.3 5.5A48.5 48.5 0 0 1 81.2 12.9L68.3 28.2A28.5 28.5 0 0 0 61.3 23.9Z" fill="#DDA63A"/><path d="M84.1 15.5A48.5 48.5 0 0 1 92.5 26.7L75.0 36.3A28.5 28.5 0 0 0 70.0 29.7Z" fill="#4C9F38"/><path d="M94.2 30.1A48.5 48.5 0 0 1 98.1 43.6L78.3 46.2A28.5 28.5 0 0 0 76.0 38.3Z" fill="#C5192D"/><path d="M98.4 47.5A48.5 48.5 0 0 1 97.1 61.4L77.7 56.7A28.5 28.5 0 0 0 78.5 48.5Z" fill="#FF3A21"/><path d="M96.1 65.1A48.5 48.5 0 0 1 89.8 77.7L73.4 66.3A28.5 28.5 0 0 0 77.1 58.9Z" fill="#26BDE2"/><path d="M87.5 80.8A48.5 48.5 0 0 1 77.2 90.2L66.0 73.6A28.5 28.5 0 0 0 72.0 68.1Z" fill="#FCC30B"/><path d="M73.9 92.2A48.5 48.5 0 0 1 60.8 97.3L56.4 77.8A28.5 28.5 0 0 0 64.0 74.8Z" fill="#A21942"/><path d="M57.0 98.0A48.5 48.5 0 0 1 43.0 98.0L45.9 78.2A28.5 28.5 0 0 0 54.1 78.2Z" fill="#FD6925"/><path d="M39.2 97.3A48.5 48.5 0 0 1 26.1 92.2L36.0 74.8A28.5 28.5 0 0 0 43.6 77.8Z" fill="#DD1367"/><path d="M22.8 90.2A48.5 48.5 0 0 1 12.5 80.8L28.0 68.1A28.5 28.5 0 0 0 34.0 73.6Z" fill="#FD9D24"/><path d="M10.2 77.7A48.5 48.5 0 0 1 3.9 65.1L22.9 58.9A28.5 28.5 0 0 0 26.6 66.3Z" fill="#BF8B2E"/><path d="M2.9 61.4A48.5 48.5 0 0 1 1.6 47.5L21.5 48.5A28.5 28.5 0 0 0 22.3 56.7Z" fill="#3F7E44"/><path d="M1.9 43.6A48.5 48.5 0 0 1 5.8 30.1L24.0 38.3A28.5 28.5 0 0 0 21.7 46.2Z" fill="#0A97D9"/><path d="M7.5 26.7A48.5 48.5 0 0 1 15.9 15.5L30.0 29.7A28.5 28.5 0 0 0 25.0 36.3Z" fill="#56C02B"/><path d="M18.8 12.9A48.5 48.5 0 0 1 30.7 5.5L38.7 23.9A28.5 28.5 0 0 0 31.7 28.2Z" fill="#00689D"/><path d="M34.3 4.1A48.5 48.5 0 0 1 48.1 1.5L48.9 21.5A28.5 28.5 0 0 0 40.8 23.0Z" fill="#19486A"/></svg>
<div class="e" style="left:814.5px;top:334.00px"><i style="width:45.10px;letter-spacing:0.30px">Le 22 - </i><span style="letter-spacing:-0.03px">Journée internationale</span><br><span style="letter-spacing:-0.04px">de la Terre nourricière</span></div>
<svg class="i" style="left:776.2px;top:413.0px" width="29.5" height="29.05" viewBox="0 0 100 100" preserveAspectRatio="none"><rect width="100" height="100" fill="#A31C44"/><g fill="#fff" font-family="Liberation Sans,sans-serif" font-weight="bold"><text x="5.500" y="28.500" font-size="31" stroke="#fff" stroke-width=".700" textLength="10.5" lengthAdjust="spacingAndGlyphs">8</text><g opacity=".8"><text x="22.5" y="15.6" font-size="9.4" textLength="63" lengthAdjust="spacingAndGlyphs">TRAVAIL DÉCENT</text><text x="22.5" y="26.6" font-size="9.4" textLength="58.5" lengthAdjust="spacingAndGlyphs">ET CROISSANCE</text><text x="22.5" y="37.6" font-size="9.4" textLength="45" lengthAdjust="spacingAndGlyphs">ÉCONOMIQUE</text></g></g><g fill="#fff"><rect x="31" y="68" width="9" height="20"/><rect x="44" y="74" width="9" height="14"/><rect x="57" y="60" width="9" height="28"/><path d="M61 49l9.500-3.500-2 10z"/></g><path d="M29 65l12-11.500 7.500 9.500 17-16" fill="none" stroke="#fff" stroke-width="3.200" stroke-linejoin="round"/></svg><svg class="i" style="left:776.2px;top:441.75px" width="29.5" height="28.75" viewBox="0 0 100 100" preserveAspectRatio="none"><rect width="100" height="100" fill="#BE8B3A"/><g fill="#fff" font-family="Liberation Sans,sans-serif" font-weight="bold"><text x="5.500" y="28.500" font-size="31" stroke="#fff" stroke-width=".700" textLength="18" lengthAdjust="spacingAndGlyphs">12</text><g opacity=".8"><text x="31" y="15.6" font-size="9.4" textLength="54" lengthAdjust="spacingAndGlyphs">CONSOMMATION</text><text x="31" y="26.6" font-size="9.4" textLength="58.5" lengthAdjust="spacingAndGlyphs">ET PRODUCTION</text><text x="31" y="37.6" font-size="9.4" textLength="54" lengthAdjust="spacingAndGlyphs">RESPONSABLES</text></g></g><path d="M48 64.500c-5-7-9.500-11.500-16-11.500a11.500 11.500 0 0 0 0 23c6.500 0 11-4.500 16-11.500s9.500-11.500 16-11.500a11.500 11.500 0 0 1 0 23c-4 0-7-1.500-9.500-4" fill="none" stroke="#fff" stroke-width="4.400" stroke-linecap="round"/><path d="M50 68.500l8.500-1-1 9z" fill="#fff"/></svg>
<div class="e" style="left:814.5px;top:426.50px"><i style="width:81.40px;letter-spacing:0.66px">Du 7 au 22 - </i>Quinzaine<br><span style="letter-spacing:0.03px">du commerce équitable</span></div>
<svg class="i" style="left:776.2px;top:482.0px" width="29.5" height="28.93" viewBox="0 0 100 100" preserveAspectRatio="none"><rect width="100" height="100" fill="#A31C44"/><g fill="#fff" font-family="Liberation Sans,sans-serif" font-weight="bold"><text x="5.500" y="28.500" font-size="31" stroke="#fff" stroke-width=".700" textLength="10.5" lengthAdjust="spacingAndGlyphs">8</text><g opacity=".8"><text x="22.5" y="15.6" font-size="9.4" textLength="63" lengthAdjust="spacingAndGlyphs">TRAVAIL DÉCENT</text><text x="22.5" y="26.6" font-size="9.4" textLength="58.5" lengthAdjust="spacingAndGlyphs">ET CROISSANCE</text><text x="22.5" y="37.6" font-size="9.4" textLength="45" lengthAdjust="spacingAndGlyphs">ÉCONOMIQUE</text></g></g><g fill="#fff"><rect x="31" y="68" width="9" height="20"/><rect x="44" y="74" width="9" height="14"/><rect x="57" y="60" width="9" height="28"/><path d="M61 49l9.500-3.500-2 10z"/></g><path d="M29 65l12-11.500 7.500 9.500 17-16" fill="none" stroke="#fff" stroke-width="3.200" stroke-linejoin="round"/></svg><svg class="i" style="left:776.2px;top:510.62px" width="29.5" height="28.62" viewBox="0 0 100 100" preserveAspectRatio="none"><rect width="100" height="100" fill="#BE8B3A"/><g fill="#fff" font-family="Liberation Sans,sans-serif" font-weight="bold"><text x="5.500" y="28.500" font-size="31" stroke="#fff" stroke-width=".700" textLength="18" lengthAdjust="spacingAndGlyphs">12</text><g opacity=".8"><text x="31" y="15.6" font-size="9.4" textLength="54" lengthAdjust="spacingAndGlyphs">CONSOMMATION</text><text x="31" y="26.6" font-size="9.4" textLength="58.5" lengthAdjust="spacingAndGlyphs">ET PRODUCTION</text><text x="31" y="37.6" font-size="9.4" textLength="54" lengthAdjust="spacingAndGlyphs">RESPONSABLES</text></g></g><path d="M48 64.500c-5-7-9.500-11.500-16-11.500a11.500 11.500 0 0 0 0 23c6.500 0 11-4.500 16-11.500s9.500-11.500 16-11.500a11.500 11.500 0 0 1 0 23c-4 0-7-1.500-9.500-4" fill="none" stroke="#fff" stroke-width="4.400" stroke-linecap="round"/><path d="M50 68.500l8.500-1-1 9z" fill="#fff"/></svg>
<div class="e" style="left:814.5px;top:496.00px"><i style="width:43.70px;letter-spacing:0.12px">Le 13 - </i><span style="letter-spacing:-0.12px">Journée mondiale</span><br><span style="letter-spacing:0.03px">du commerce équitable</span></div>
<svg class="i" style="left:776.2px;top:552.0px" width="29.5" height="29.5" viewBox="0 0 100 100" preserveAspectRatio="none"><rect width="100" height="100" fill="#F49B36"/><g fill="#fff" font-family="Liberation Sans,sans-serif" font-weight="bold"><text x="5.500" y="28.500" font-size="31" stroke="#fff" stroke-width=".700" textLength="12" lengthAdjust="spacingAndGlyphs">11</text><g opacity=".8"><text x="28.5" y="15.6" font-size="9.4" textLength="40.5" lengthAdjust="spacingAndGlyphs">VILLES ET</text><text x="28.5" y="26.6" font-size="9.4" textLength="49.5" lengthAdjust="spacingAndGlyphs">COMMUNAUTÉS</text><text x="28.5" y="37.6" font-size="9.4" textLength="36" lengthAdjust="spacingAndGlyphs">DURABLES</text></g></g><g fill="#fff"><rect x="42" y="50" width="12" height="36"/><rect x="44" y="45" width="8" height="4"/><rect x="28" y="66" width="12.500" height="20"/><rect x="21" y="74" width="6" height="12"/><rect x="56" y="68" width="10" height="18"/><path d="M68 60l5.500-5.500L79 60v26H68z"/><rect x="20" y="87" width="64" height="2"/><rect x="80.500" y="72" width="3.500" height="14"/></g><g fill="#F49B36"><rect x="44.500" y="54" width="7" height="2.400"/><rect x="44.500" y="59.500" width="7" height="2.400"/><rect x="44.500" y="65" width="7" height="2.400"/><rect x="44.500" y="70.500" width="7" height="2.400"/><rect x="44.500" y="76" width="7" height="2.400"/><rect x="30" y="70" width="8.500" height="2.400"/><rect x="30" y="75.500" width="8.500" height="2.400"/><rect x="30" y="81" width="8.500" height="2.400"/><rect x="58" y="72" width="6" height="2.400"/><rect x="58" y="77.500" width="6" height="2.400"/><rect x="70.500" y="65" width="6" height="2.400"/><rect x="70.500" y="70.500" width="6" height="2.400"/><rect x="70.500" y="76" width="6" height="2.400"/></g></svg>
<div class="e" style="left:814.5px;top:552.00px"><i style="width:87.55px;letter-spacing:0.55px">Du 16 au 20 - </i><span style="letter-spacing:-0.10px">Semaine</span><br><span style="letter-spacing:0.01px">nationale de la marche et du</span><br><span style="letter-spacing:-0.15px">vélo à l’école et au collège</span></div>
<svg class="i" style="left:776.2px;top:605.0px" width="29.5" height="28.68" viewBox="0 0 100 100" preserveAspectRatio="none"><rect width="100" height="100" fill="#2A92D8"/><g fill="#fff" font-family="Liberation Sans,sans-serif" font-weight="bold"><text x="5.500" y="28.500" font-size="31" stroke="#fff" stroke-width=".700" textLength="18" lengthAdjust="spacingAndGlyphs">14</text><g opacity=".8"><text x="31" y="15.6" font-size="9.4" textLength="13.5" lengthAdjust="spacingAndGlyphs">VIE</text><text x="31" y="26.6" font-size="9.4" textLength="40.5" lengthAdjust="spacingAndGlyphs">AQUATIQUE</text></g></g><g fill="none" stroke="#fff" stroke-width="2.600"><path d="M21 45c4-4 7-4 11 0s7 4 11 0 7-4 11 0 7 4 11 0 7-4 11 0"/><path d="M21 52.500c4-4 7-4 11 0s7 4 11 0 7-4 11 0 7 4 11 0 7-4 11 0"/></g><path d="M21 60.500l12 7c6-6 13-8 21-8 10 0 18 5 22 12-4 7-12 12-22 12-8 0-15-2-21-8l-12 7 5-11z" fill="#fff"/><circle cx="62" cy="69" r="3.200" fill="#2A92D8"/></svg><svg class="i" style="left:776.2px;top:633.38px" width="29.5" height="28.38" viewBox="0 0 100 100" preserveAspectRatio="none"><rect width="100" height="100" fill="#5DBB46"/><g fill="#fff" font-family="Liberation Sans,sans-serif" font-weight="bold"><text x="5.500" y="28.500" font-size="31" stroke="#fff" stroke-width=".700" textLength="18" lengthAdjust="spacingAndGlyphs">15</text><g opacity=".8"><text x="31" y="15.6" font-size="9.4" textLength="13.5" lengthAdjust="spacingAndGlyphs">VIE</text><text x="31" y="26.6" font-size="9.4" textLength="40.5" lengthAdjust="spacingAndGlyphs">TERRESTRE</text></g></g><g fill="#fff"><circle cx="38.500" cy="49" r="8"/><circle cx="32.500" cy="57" r="7.500"/><circle cx="44.500" cy="57" r="7.500"/><circle cx="38.500" cy="62" r="7.500"/><rect x="36.700" y="64" width="3.600" height="14"/><rect x="24.500" y="80" width="47" height="3"/><rect x="24.500" y="85.500" width="47" height="3"/></g><g fill="none" stroke="#fff" stroke-width="1.800" stroke-linecap="round"><path d="M54 49c3-3 6-3 8 0 2-3 5-3 7-1"/><path d="M57 61c2-2 4-2 6 0 2-2 4-2 6 0"/><path d="M60 71c2-1.500 3-1.500 5 0"/></g></svg>
<div class="e" style="left:814.5px;top:617.75px"><i style="width:87.55px;letter-spacing:0.55px">Du 18 au 22 - </i><span style="letter-spacing:-0.13px">Fête de la</span><br><span style="letter-spacing:0.36px">Nature</span></div>
<svg class="i" style="left:776.2px;top:673.0px" width="29.5" height="29.5" viewBox="0 0 100 100" preserveAspectRatio="none"><rect width="100" height="100" fill="#5DBB46"/><g fill="#fff" font-family="Liberation Sans,sans-serif" font-weight="bold"><text x="5.500" y="28.500" font-size="31" stroke="#fff" stroke-width=".700" textLength="18" lengthAdjust="spacingAndGlyphs">15</text><g opacity=".8"><text x="31" y="15.6" font-size="9.4" textLength="13.5" lengthAdjust="spacingAndGlyphs">VIE</text><text x="31" y="26.6" font-size="9.4" textLength="40.5" lengthAdjust="spacingAndGlyphs">TERRESTRE</text></g></g><g fill="#fff"><circle cx="38.500" cy="49" r="8"/><circle cx="32.500" cy="57" r="7.500"/><circle cx="44.500" cy="57" r="7.500"/><circle cx="38.500" cy="62" r="7.500"/><rect x="36.700" y="64" width="3.600" height="14"/><rect x="24.500" y="80" width="47" height="3"/><rect x="24.500" y="85.500" width="47" height="3"/></g><g fill="none" stroke="#fff" stroke-width="1.800" stroke-linecap="round"><path d="M54 49c3-3 6-3 8 0 2-3 5-3 7-1"/><path d="M57 61c2-2 4-2 6 0 2-2 4-2 6 0"/><path d="M60 71c2-1.500 3-1.500 5 0"/></g></svg>
<div class="e" style="left:814.5px;top:672.75px"><i style="width:45.90px;letter-spacing:0.40px">Le 20 - </i><span style="letter-spacing:-0.19px">Journée mondiale</span><br><span style="letter-spacing:-0.27px">des abeilles</span></div>
<svg class="i" style="left:776.2px;top:714.0px" width="29.5" height="29.05" viewBox="0 0 100 100" preserveAspectRatio="none"><rect width="100" height="100" fill="#2A92D8"/><g fill="#fff" font-family="Liberation Sans,sans-serif" font-weight="bold"><text x="5.500" y="28.500" font-size="31" stroke="#fff" stroke-width=".700" textLength="18" lengthAdjust="spacingAndGlyphs">14</text><g opacity=".8"><text x="31" y="15.6" font-size="9.4" textLength="13.5" lengthAdjust="spacingAndGlyphs">VIE</text><text x="31" y="26.6" font-size="9.4" textLength="40.5" lengthAdjust="spacingAndGlyphs">AQUATIQUE</text></g></g><g fill="none" stroke="#fff" stroke-width="2.600"><path d="M21 45c4-4 7-4 11 0s7 4 11 0 7-4 11 0 7 4 11 0 7-4 11 0"/><path d="M21 52.500c4-4 7-4 11 0s7 4 11 0 7-4 11 0 7 4 11 0 7-4 11 0"/></g><path d="M21 60.500l12 7c6-6 13-8 21-8 10 0 18 5 22 12-4 7-12 12-22 12-8 0-15-2-21-8l-12 7 5-11z" fill="#fff"/><circle cx="62" cy="69" r="3.200" fill="#2A92D8"/></svg><svg class="i" style="left:776.2px;top:742.75px" width="29.5" height="28.75" viewBox="0 0 100 100" preserveAspectRatio="none"><rect width="100" height="100" fill="#5DBB46"/><g fill="#fff" font-family="Liberation Sans,sans-serif" font-weight="bold"><text x="5.500" y="28.500" font-size="31" stroke="#fff" stroke-width=".700" textLength="18" lengthAdjust="spacingAndGlyphs">15</text><g opacity=".8"><text x="31" y="15.6" font-size="9.4" textLength="13.5" lengthAdjust="spacingAndGlyphs">VIE</text><text x="31" y="26.6" font-size="9.4" textLength="40.5" lengthAdjust="spacingAndGlyphs">TERRESTRE</text></g></g><g fill="#fff"><circle cx="38.500" cy="49" r="8"/><circle cx="32.500" cy="57" r="7.500"/><circle cx="44.500" cy="57" r="7.500"/><circle cx="38.500" cy="62" r="7.500"/><rect x="36.700" y="64" width="3.600" height="14"/><rect x="24.500" y="80" width="47" height="3"/><rect x="24.500" y="85.500" width="47" height="3"/></g><g fill="none" stroke="#fff" stroke-width="1.800" stroke-linecap="round"><path d="M54 49c3-3 6-3 8 0 2-3 5-3 7-1"/><path d="M57 61c2-2 4-2 6 0 2-2 4-2 6 0"/><path d="M60 71c2-1.500 3-1.500 5 0"/></g></svg>
<div class="e" style="left:814.5px;top:727.50px"><i style="width:45.10px;letter-spacing:0.30px">Le 22 - </i><span style="letter-spacing:-0.03px">Journée internationale</span><br><span style="letter-spacing:-0.08px">de la biodiversité</span></div>
<svg class="i" style="left:1011.2px;top:161.25px" width="28.75" height="28.25" viewBox="0 0 100 100" preserveAspectRatio="none"><rect width="100" height="100" fill="#F49B36"/><g fill="#fff" font-family="Liberation Sans,sans-serif" font-weight="bold"><text x="5.500" y="28.500" font-size="31" stroke="#fff" stroke-width=".700" textLength="12" lengthAdjust="spacingAndGlyphs">11</text><g opacity=".8"><text x="28.5" y="15.6" font-size="9.4" textLength="40.5" lengthAdjust="spacingAndGlyphs">VILLES ET</text><text x="28.5" y="26.6" font-size="9.4" textLength="49.5" lengthAdjust="spacingAndGlyphs">COMMUNAUTÉS</text><text x="28.5" y="37.6" font-size="9.4" textLength="36" lengthAdjust="spacingAndGlyphs">DURABLES</text></g></g><g fill="#fff"><rect x="42" y="50" width="12" height="36"/><rect x="44" y="45" width="8" height="4"/><rect x="28" y="66" width="12.500" height="20"/><rect x="21" y="74" width="6" height="12"/><rect x="56" y="68" width="10" height="18"/><path d="M68 60l5.500-5.500L79 60v26H68z"/><rect x="20" y="87" width="64" height="2"/><rect x="80.500" y="72" width="3.500" height="14"/></g><g fill="#F49B36"><rect x="44.500" y="54" width="7" height="2.400"/><rect x="44.500" y="59.500" width="7" height="2.400"/><rect x="44.500" y="65" width="7" height="2.400"/><rect x="44.500" y="70.500" width="7" height="2.400"/><rect x="44.500" y="76" width="7" height="2.400"/><rect x="30" y="70" width="8.500" height="2.400"/><rect x="30" y="75.500" width="8.500" height="2.400"/><rect x="30" y="81" width="8.500" height="2.400"/><rect x="58" y="72" width="6" height="2.400"/><rect x="58" y="77.500" width="6" height="2.400"/><rect x="70.500" y="65" width="6" height="2.400"/><rect x="70.500" y="70.500" width="6" height="2.400"/><rect x="70.500" y="76" width="6" height="2.400"/></g></svg>
<div class="e" style="left:1049.2px;top:160.75px"><i style="width:37.60px;letter-spacing:0.27px">Le 3 - </i><span style="letter-spacing:-0.14px">Journée mondiale</span><br><span style="letter-spacing:-0.08px">pour le vélo</span></div>
<svg class="i" style="left:1011.2px;top:201.25px" width="28.75" height="28.0" viewBox="0 0 100 100"><path d="M51.9 1.5A48.5 48.5 0 0 1 65.7 4.1L59.2 23.0A28.5 28.5 0 0 0 51.1 21.5Z" fill="#E5243B"/><path d="M69.3 5.5A48.5 48.5 0 0 1 81.2 12.9L68.3 28.2A28.5 28.5 0 0 0 61.3 23.9Z" fill="#DDA63A"/><path d="M84.1 15.5A48.5 48.5 0 0 1 92.5 26.7L75.0 36.3A28.5 28.5 0 0 0 70.0 29.7Z" fill="#4C9F38"/><path d="M94.2 30.1A48.5 48.5 0 0 1 98.1 43.6L78.3 46.2A28.5 28.5 0 0 0 76.0 38.3Z" fill="#C5192D"/><path d="M98.4 47.5A48.5 48.5 0 0 1 97.1 61.4L77.7 56.7A28.5 28.5 0 0 0 78.5 48.5Z" fill="#FF3A21"/><path d="M96.1 65.1A48.5 48.5 0 0 1 89.8 77.7L73.4 66.3A28.5 28.5 0 0 0 77.1 58.9Z" fill="#26BDE2"/><path d="M87.5 80.8A48.5 48.5 0 0 1 77.2 90.2L66.0 73.6A28.5 28.5 0 0 0 72.0 68.1Z" fill="#FCC30B"/><path d="M73.9 92.2A48.5 48.5 0 0 1 60.8 97.3L56.4 77.8A28.5 28.5 0 0 0 64.0 74.8Z" fill="#A21942"/><path d="M57.0 98.0A48.5 48.5 0 0 1 43.0 98.0L45.9 78.2A28.5 28.5 0 0 0 54.1 78.2Z" fill="#FD6925"/><path d="M39.2 97.3A48.5 48.5 0 0 1 26.1 92.2L36.0 74.8A28.5 28.5 0 0 0 43.6 77.8Z" fill="#DD1367"/><path d="M22.8 90.2A48.5 48.5 0 0 1 12.5 80.8L28.0 68.1A28.5 28.5 0 0 0 34.0 73.6Z" fill="#FD9D24"/><path d="M10.2 77.7A48.5 48.5 0 0 1 3.9 65.1L22.9 58.9A28.5 28.5 0 0 0 26.6 66.3Z" fill="#BF8B2E"/><path d="M2.9 61.4A48.5 48.5 0 0 1 1.6 47.5L21.5 48.5A28.5 28.5 0 0 0 22.3 56.7Z" fill="#3F7E44"/><path d="M1.9 43.6A48.5 48.5 0 0 1 5.8 30.1L24.0 38.3A28.5 28.5 0 0 0 21.7 46.2Z" fill="#0A97D9"/><path d="M7.5 26.7A48.5 48.5 0 0 1 15.9 15.5L30.0 29.7A28.5 28.5 0 0 0 25.0 36.3Z" fill="#56C02B"/><path d="M18.8 12.9A48.5 48.5 0 0 1 30.7 5.5L38.7 23.9A28.5 28.5 0 0 0 31.7 28.2Z" fill="#00689D"/><path d="M34.3 4.1A48.5 48.5 0 0 1 48.1 1.5L48.9 21.5A28.5 28.5 0 0 0 40.8 23.0Z" fill="#19486A"/></svg>
<div class="e" style="left:1049.2px;top:200.75px"><i style="width:37.60px;letter-spacing:0.27px">Le 5 - </i><span style="letter-spacing:-0.14px">Journée mondiale</span><br><span style="letter-spacing:-0.01px">de l’environnement</span></div>
<svg class="i" style="left:1011.2px;top:240.75px" width="28.75" height="28.75" viewBox="0 0 100 100" preserveAspectRatio="none"><rect width="100" height="100" fill="#2A92D8"/><g fill="#fff" font-family="Liberation Sans,sans-serif" font-weight="bold"><text x="5.500" y="28.500" font-size="31" stroke="#fff" stroke-width=".700" textLength="18" lengthAdjust="spacingAndGlyphs">14</text><g opacity=".8"><text x="31" y="15.6" font-size="9.4" textLength="13.5" lengthAdjust="spacingAndGlyphs">VIE</text><text x="31" y="26.6" font-size="9.4" textLength="40.5" lengthAdjust="spacingAndGlyphs">AQUATIQUE</text></g></g><g fill="none" stroke="#fff" stroke-width="2.600"><path d="M21 45c4-4 7-4 11 0s7 4 11 0 7-4 11 0 7 4 11 0 7-4 11 0"/><path d="M21 52.500c4-4 7-4 11 0s7 4 11 0 7-4 11 0 7 4 11 0 7-4 11 0"/></g><path d="M21 60.500l12 7c6-6 13-8 21-8 10 0 18 5 22 12-4 7-12 12-22 12-8 0-15-2-21-8l-12 7 5-11z" fill="#fff"/><circle cx="62" cy="69" r="3.200" fill="#2A92D8"/></svg>
<div class="e" style="left:1049.2px;top:240.75px"><i style="width:37.60px;letter-spacing:0.27px">Le 8 - </i><span style="letter-spacing:-0.14px">Journée mondiale</span><br><span style="letter-spacing:-0.11px">de l’océan</span></div>
<svg class="i" style="left:1011.2px;top:281.25px" width="28.75" height="28.8" viewBox="0 0 100 100" preserveAspectRatio="none"><rect width="100" height="100" fill="#40804A"/><g fill="#fff" font-family="Liberation Sans,sans-serif" font-weight="bold"><text x="5.500" y="28.500" font-size="31" stroke="#fff" stroke-width=".700" textLength="18" lengthAdjust="spacingAndGlyphs">13</text><g opacity=".8"><text x="31" y="15" font-size="9.8" textLength="64" lengthAdjust="spacingAndGlyphs">MESURES RELATIVES</text><text x="31" y="27.2" font-size="9.8" textLength="64" lengthAdjust="spacingAndGlyphs">À LA LUTTE CONTRE</text><text x="31" y="39.4" font-size="9.8" textLength="64" lengthAdjust="spacingAndGlyphs">LES CHANGEMENTS</text><text x="31" y="51.6" font-size="9.8" textLength="49.5" lengthAdjust="spacingAndGlyphs">CLIMATIQUES</text></g></g><path d="M20 72.500c8.500-10.500 19-14.500 30-14.500s21.500 4 30 14.500c-8.500 10.500-19 14.500-30 14.500s-21.500-4-30-14.500z" fill="#fff"/><circle cx="50" cy="72.500" r="11" fill="#40804A"/><path d="M43.500 67.500c3-3 6-2 7 0s4 1 5 3-2 4-1 6-3 4-5 3-1-4-3-5-4-3-3-7z" fill="#fff" opacity=".85"/></svg><svg class="i" style="left:1011.2px;top:309.75px" width="28.75" height="28.5" viewBox="0 0 100 100" preserveAspectRatio="none"><rect width="100" height="100" fill="#5DBB46"/><g fill="#fff" font-family="Liberation Sans,sans-serif" font-weight="bold"><text x="5.500" y="28.500" font-size="31" stroke="#fff" stroke-width=".700" textLength="18" lengthAdjust="spacingAndGlyphs">15</text><g opacity=".8"><text x="31" y="15.6" font-size="9.4" textLength="13.5" lengthAdjust="spacingAndGlyphs">VIE</text><text x="31" y="26.6" font-size="9.4" textLength="40.5" lengthAdjust="spacingAndGlyphs">TERRESTRE</text></g></g><g fill="#fff"><circle cx="38.500" cy="49" r="8"/><circle cx="32.500" cy="57" r="7.500"/><circle cx="44.500" cy="57" r="7.500"/><circle cx="38.500" cy="62" r="7.500"/><rect x="36.700" y="64" width="3.600" height="14"/><rect x="24.500" y="80" width="47" height="3"/><rect x="24.500" y="85.500" width="47" height="3"/></g><g fill="none" stroke="#fff" stroke-width="1.800" stroke-linecap="round"><path d="M54 49c3-3 6-3 8 0 2-3 5-3 7-1"/><path d="M57 61c2-2 4-2 6 0 2-2 4-2 6 0"/><path d="M60 71c2-1.500 3-1.500 5 0"/></g></svg>
<div class="e" style="left:1049.2px;top:280.75px"><i style="width:43.70px;letter-spacing:0.12px">Le 17 - </i><span style="letter-spacing:-0.15px">Journée mondiale</span><br><span style="letter-spacing:0.01px">de lutte contre la</span><br><span style="letter-spacing:0.04px">désertification</span><br><span style="letter-spacing:-0.33px">et la sécheresse</span></div>
<svg class="i" style="left:1011.2px;top:349.25px" width="28.75" height="29.05" viewBox="0 0 100 100" preserveAspectRatio="none"><rect width="100" height="100" fill="#D6A23F"/><g fill="#fff" font-family="Liberation Sans,sans-serif" font-weight="bold"><text x="5.500" y="28.500" font-size="31" stroke="#fff" stroke-width=".700" textLength="10.5" lengthAdjust="spacingAndGlyphs">2</text><g opacity=".8"><text x="22.5" y="15.6" font-size="9.4" textLength="18" lengthAdjust="spacingAndGlyphs">FAIM</text><text x="22.5" y="26.6" font-size="9.4" textLength="27" lengthAdjust="spacingAndGlyphs">«ZÉRO»</text></g></g><path d="M20 61h56c0 12-9 21-21 23v2.500H41V84C29 82 20 73 20 61z" fill="#fff"/><g fill="none" stroke="#fff" stroke-width="2.700" stroke-linecap="round"><path d="M38 39c-3.500 5 3.500 9 0 17"/><path d="M48 37c-3.500 6 3.500 11 0 19"/><path d="M58 39c-3.500 5 3.500 9 0 17"/></g></svg><svg class="i" style="left:1011.2px;top:378.0px" width="28.75" height="28.75" viewBox="0 0 100 100" preserveAspectRatio="none"><rect width="100" height="100" fill="#4C9F3D"/><g fill="#fff" font-family="Liberation Sans,sans-serif" font-weight="bold"><text x="5.500" y="28.500" font-size="31" stroke="#fff" stroke-width=".700" textLength="10.5" lengthAdjust="spacingAndGlyphs">3</text><g opacity=".8"><text x="22.5" y="15.6" font-size="9.4" textLength="49.5" lengthAdjust="spacingAndGlyphs">BONNE SANTÉ</text><text x="22.5" y="26.6" font-size="9.4" textLength="54" lengthAdjust="spacingAndGlyphs">ET BIEN-ÊTRE</text></g></g><path d="M19 65h15l5-8 8 26 9-44 6 26h5" fill="none" stroke="#fff" stroke-width="2.900" stroke-linejoin="round" stroke-linecap="round"/><path d="M76 75c-8-5.500-9.500-9-9.500-12.500 0-5.500 7-7 9.500-2 2.500-5 9.500-3.500 9.500 2 0 3.500-1.500 7-9.500 12.500z" fill="#fff"/></svg>
<div class="e" style="left:1049.2px;top:362.75px"><i style="width:43.70px;letter-spacing:0.12px">Le 18 - </i><span style="letter-spacing:-0.27px">Journée de la</span><br><span style="letter-spacing:-0.08px">gastronomie durable</span></div>
<svg class="i" style="left:1011.2px;top:456.25px" width="28.75" height="28.25" viewBox="0 0 100 100" preserveAspectRatio="none"><rect width="100" height="100" fill="#2A92D8"/><g fill="#fff" font-family="Liberation Sans,sans-serif" font-weight="bold"><text x="5.500" y="28.500" font-size="31" stroke="#fff" stroke-width=".700" textLength="18" lengthAdjust="spacingAndGlyphs">14</text><g opacity=".8"><text x="31" y="15.6" font-size="9.4" textLength="13.5" lengthAdjust="spacingAndGlyphs">VIE</text><text x="31" y="26.6" font-size="9.4" textLength="40.5" lengthAdjust="spacingAndGlyphs">AQUATIQUE</text></g></g><g fill="none" stroke="#fff" stroke-width="2.600"><path d="M21 45c4-4 7-4 11 0s7 4 11 0 7-4 11 0 7 4 11 0 7-4 11 0"/><path d="M21 52.500c4-4 7-4 11 0s7 4 11 0 7-4 11 0 7 4 11 0 7-4 11 0"/></g><path d="M21 60.500l12 7c6-6 13-8 21-8 10 0 18 5 22 12-4 7-12 12-22 12-8 0-15-2-21-8l-12 7 5-11z" fill="#fff"/><circle cx="62" cy="69" r="3.200" fill="#2A92D8"/></svg>
<div class="e" style="left:1049.2px;top:456.50px"><span style="letter-spacing:-0.24px">Les initiatives océanes de la</span><br><span style="letter-spacing:-0.08px">Fondation Surfrider Europe</span></div>
<svg class="i" style="left:1011.2px;top:495.75px" width="28.75" height="29.25" viewBox="0 0 100 100" preserveAspectRatio="none"><rect width="100" height="100" fill="#5DBB46"/><g fill="#fff" font-family="Liberation Sans,sans-serif" font-weight="bold"><text x="5.500" y="28.500" font-size="31" stroke="#fff" stroke-width=".700" textLength="18" lengthAdjust="spacingAndGlyphs">15</text><g opacity=".8"><text x="31" y="15.6" font-size="9.4" textLength="13.5" lengthAdjust="spacingAndGlyphs">VIE</text><text x="31" y="26.6" font-size="9.4" textLength="40.5" lengthAdjust="spacingAndGlyphs">TERRESTRE</text></g></g><g fill="#fff"><circle cx="38.500" cy="49" r="8"/><circle cx="32.500" cy="57" r="7.500"/><circle cx="44.500" cy="57" r="7.500"/><circle cx="38.500" cy="62" r="7.500"/><rect x="36.700" y="64" width="3.600" height="14"/><rect x="24.500" y="80" width="47" height="3"/><rect x="24.500" y="85.500" width="47" height="3"/></g><g fill="none" stroke="#fff" stroke-width="1.800" stroke-linecap="round"><path d="M54 49c3-3 6-3 8 0 2-3 5-3 7-1"/><path d="M57 61c2-2 4-2 6 0 2-2 4-2 6 0"/><path d="M60 71c2-1.500 3-1.500 5 0"/></g></svg>
<div class="e" style="left:1049.2px;top:496.50px"><span style="letter-spacing:-0.13px">Mountain days de l’association</span><br><span style="letter-spacing:-0.07px">Mountain riders</span></div>
<svg class="i" style="left:1011.2px;top:536.25px" width="28.75" height="29.25" viewBox="0 0 100 100" preserveAspectRatio="none"><rect width="100" height="100" fill="#BE8B3A"/><g fill="#fff" font-family="Liberation Sans,sans-serif" font-weight="bold"><text x="5.500" y="28.500" font-size="31" stroke="#fff" stroke-width=".700" textLength="18" lengthAdjust="spacingAndGlyphs">12</text><g opacity=".8"><text x="31" y="15.6" font-size="9.4" textLength="54" lengthAdjust="spacingAndGlyphs">CONSOMMATION</text><text x="31" y="26.6" font-size="9.4" textLength="58.5" lengthAdjust="spacingAndGlyphs">ET PRODUCTION</text><text x="31" y="37.6" font-size="9.4" textLength="54" lengthAdjust="spacingAndGlyphs">RESPONSABLES</text></g></g><path d="M48 64.500c-5-7-9.500-11.500-16-11.500a11.500 11.500 0 0 0 0 23c6.500 0 11-4.500 16-11.500s9.500-11.500 16-11.500a11.500 11.500 0 0 1 0 23c-4 0-7-1.500-9.500-4" fill="none" stroke="#fff" stroke-width="4.400" stroke-linecap="round"/><path d="M50 68.500l8.500-1-1 9z" fill="#fff"/></svg>
<div class="e" style="left:1049.2px;top:536.50px"><i style="width:37.60px;letter-spacing:0.27px">Le 3 - </i><span style="letter-spacing:-0.14px">Journée mondiale</span><br><span style="letter-spacing:-0.37px">sans sac plastique</span></div>
<svg class="i" style="left:1011.2px;top:576.25px" width="28.75" height="29.25" viewBox="0 0 100 100" preserveAspectRatio="none"><rect width="100" height="100" fill="#2A92D8"/><g fill="#fff" font-family="Liberation Sans,sans-serif" font-weight="bold"><text x="5.500" y="28.500" font-size="31" stroke="#fff" stroke-width=".700" textLength="18" lengthAdjust="spacingAndGlyphs">14</text><g opacity=".8"><text x="31" y="15.6" font-size="9.4" textLength="13.5" lengthAdjust="spacingAndGlyphs">VIE</text><text x="31" y="26.6" font-size="9.4" textLength="40.5" lengthAdjust="spacingAndGlyphs">AQUATIQUE</text></g></g><g fill="none" stroke="#fff" stroke-width="2.600"><path d="M21 45c4-4 7-4 11 0s7 4 11 0 7-4 11 0 7 4 11 0 7-4 11 0"/><path d="M21 52.500c4-4 7-4 11 0s7 4 11 0 7-4 11 0 7 4 11 0 7-4 11 0"/></g><path d="M21 60.500l12 7c6-6 13-8 21-8 10 0 18 5 22 12-4 7-12 12-22 12-8 0-15-2-21-8l-12 7 5-11z" fill="#fff"/><circle cx="62" cy="69" r="3.200" fill="#2A92D8"/></svg>
<div class="e" style="left:1049.2px;top:576.50px"><i style="width:79.30px;letter-spacing:0.50px">Du 7 au 10 - </i><span style="letter-spacing:0.03px">Fête de la mer</span><br><span style="letter-spacing:-0.01px">et des littoraux</span></div>
<svg class="i" style="left:1011.2px;top:655.0px" width="28.75" height="29.5" viewBox="0 0 100 100" preserveAspectRatio="none"><rect width="100" height="100" fill="#2A92D8"/><g fill="#fff" font-family="Liberation Sans,sans-serif" font-weight="bold"><text x="5.500" y="28.500" font-size="31" stroke="#fff" stroke-width=".700" textLength="18" lengthAdjust="spacingAndGlyphs">14</text><g opacity=".8"><text x="31" y="15.6" font-size="9.4" textLength="13.5" lengthAdjust="spacingAndGlyphs">VIE</text><text x="31" y="26.6" font-size="9.4" textLength="40.5" lengthAdjust="spacingAndGlyphs">AQUATIQUE</text></g></g><g fill="none" stroke="#fff" stroke-width="2.600"><path d="M21 45c4-4 7-4 11 0s7 4 11 0 7-4 11 0 7 4 11 0 7-4 11 0"/><path d="M21 52.500c4-4 7-4 11 0s7 4 11 0 7-4 11 0 7 4 11 0 7-4 11 0"/></g><path d="M21 60.500l12 7c6-6 13-8 21-8 10 0 18 5 22 12-4 7-12 12-22 12-8 0-15-2-21-8l-12 7 5-11z" fill="#fff"/><circle cx="62" cy="69" r="3.200" fill="#2A92D8"/></svg>
<div class="e" style="left:1049.2px;top:655.25px"><span style="letter-spacing:-0.24px">Les initiatives océanes de la</span><br><span style="letter-spacing:-0.08px">Fondation Surfrider Europe</span></div>
<svg class="i" style="left:1011.2px;top:695.0px" width="28.75" height="29.25" viewBox="0 0 100 100" preserveAspectRatio="none"><rect width="100" height="100" fill="#5DBB46"/><g fill="#fff" font-family="Liberation Sans,sans-serif" font-weight="bold"><text x="5.500" y="28.500" font-size="31" stroke="#fff" stroke-width=".700" textLength="18" lengthAdjust="spacingAndGlyphs">15</text><g opacity=".8"><text x="31" y="15.6" font-size="9.4" textLength="13.5" lengthAdjust="spacingAndGlyphs">VIE</text><text x="31" y="26.6" font-size="9.4" textLength="40.5" lengthAdjust="spacingAndGlyphs">TERRESTRE</text></g></g><g fill="#fff"><circle cx="38.500" cy="49" r="8"/><circle cx="32.500" cy="57" r="7.500"/><circle cx="44.500" cy="57" r="7.500"/><circle cx="38.500" cy="62" r="7.500"/><rect x="36.700" y="64" width="3.600" height="14"/><rect x="24.500" y="80" width="47" height="3"/><rect x="24.500" y="85.500" width="47" height="3"/></g><g fill="none" stroke="#fff" stroke-width="1.800" stroke-linecap="round"><path d="M54 49c3-3 6-3 8 0 2-3 5-3 7-1"/><path d="M57 61c2-2 4-2 6 0 2-2 4-2 6 0"/><path d="M60 71c2-1.500 3-1.500 5 0"/></g></svg>
<div class="e" style="left:1049.2px;top:695.25px"><span style="letter-spacing:-0.13px">Mountain days de l’association</span><br><span style="letter-spacing:-0.07px">Mountain riders</span></div>
<div class="abs" style="left:871.700px;top:817.700px;font-weight:bold;font-size:12.400px;line-height:14.500px;letter-spacing:.08px;color:#1d1d1b">AGIR Acteurs de l’éducation<span style="margin-left:1.500px">:</span><br>www.agirpourlatransition.ademe.fr/<br>acteurs-education/</div>
<div class="abs" style="left:1123.300px;top:846.700px;font-weight:bold;font-size:12.400px;line-height:14.500px;letter-spacing:.23px;color:#1d1d1b">www.mtaterre.fr</div>
<svg class="i" style="left:1125px;top:776px" width="100" height="76" viewBox="1125 776 100 76">
<path d="M1139.700 813l-8 6.800 27 9z" fill="#6A6670"/>
<path d="M1139.700 812.500l-8.200 6.800.3 3.800 36 15 10-5.500-1.500-4-9.500 4.200-28-11.500 5-4.300z" fill="#6CC04A" stroke="#1f3312" stroke-width="1.300" stroke-linejoin="round"/>
<path d="M1167.100 781.500l35.800 35.500-.3 2.700-18.700 8-3.700-2-1.300 4.300-11 8-36.500-37.500.3-2.500 19-8 2.200 2.500z" fill="#6CC04A" stroke="#1f3312" stroke-width="1.700" stroke-linejoin="round"/>
<path d="M1167.100 788.600l29.400 28.600-9.600 4.700-18.100-17.300-8.900 5.500 16.400 17.200-9.200 4.700-28.200-29.900 14.300-5.100 3.800 2.100z" fill="#D2D0DA"/>
<path d="M1159.900 810.100l8.900-5.500 3.600 8.600-4 1.800z" fill="#5DB13E"/>
<path d="M1169.800 811.800l5.300 2 4.800 6.800-3.400 1.800z" fill="#50554f"/>
<g font-family="Liberation Sans,sans-serif" font-weight="bold" fill="#222" font-size="8.500" stroke="#222" stroke-width=".3"><text transform="translate(1172.300 845) rotate(-19) skewX(-18)" textLength="11.500" lengthAdjust="spacingAndGlyphs">ta</text><text transform="translate(1185.800 836.800) rotate(-21) skewX(-18)" textLength="28" lengthAdjust="spacingAndGlyphs"><tspan fill="#3F8A2B" stroke="#3F8A2B">t</tspan>erre</text></g>
</svg>
</body></html>
